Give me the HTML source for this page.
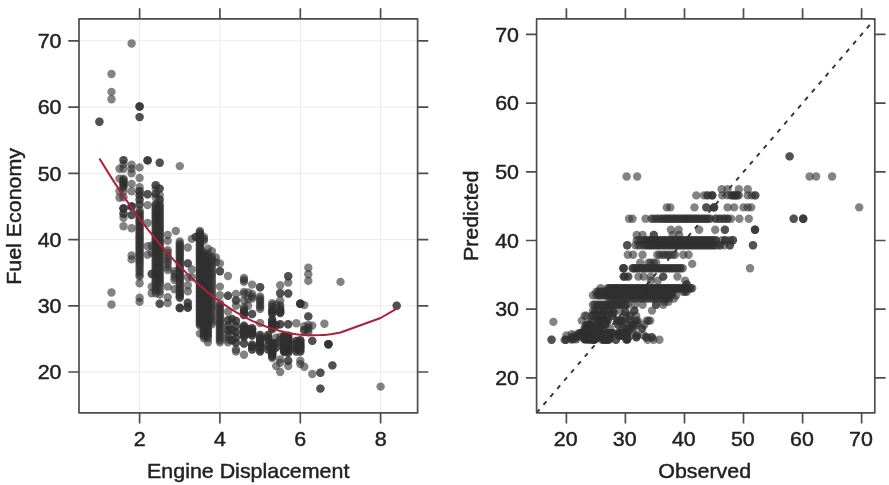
<!DOCTYPE html><html><head><meta charset="utf-8"><title>Fuel Economy</title>
<style>html,body{margin:0;padding:0;background:#fff}svg{display:block}text{font-family:"Liberation Sans",Arial,Helvetica,sans-serif;font-size:20.6px;fill:#222;stroke:#222;stroke-width:0.45px}</style></head><body>
<svg width="889" height="485" viewBox="0 0 889 485">
<rect width="889" height="485" fill="#fff"/>
<g id="left">
<g stroke="#eaeaea" stroke-width="1" fill="none">
<path d="M139.6 18.9V412.8"/>
<path d="M219.9 18.9V412.8"/>
<path d="M300.3 18.9V412.8"/>
<path d="M380.6 18.9V412.8"/>
<path d="M79 372H417.6"/>
<path d="M79 305.8H417.6"/>
<path d="M79 239.6H417.6"/>
<path d="M79 173.3H417.6"/>
<path d="M79 107.1H417.6"/>
<path d="M79 40.9H417.6"/>
</g>
<g fill="#303030" fill-opacity="0.6">
<circle cx="99.4" cy="121.7" r="4.2"/>
<circle cx="99.4" cy="121.7" r="4.2"/>
<circle cx="111.5" cy="74" r="4.2"/>
<circle cx="111.5" cy="91.9" r="4.2"/>
<circle cx="111.5" cy="99.2" r="4.2"/>
<circle cx="111.5" cy="292.5" r="4.2"/>
<circle cx="111.5" cy="304.5" r="4.2"/>
<circle cx="119.5" cy="168.7" r="4.2"/>
<circle cx="119.5" cy="178.6" r="4.2"/>
<circle cx="119.5" cy="191.2" r="4.2"/>
<circle cx="119.5" cy="197.8" r="4.2"/>
<circle cx="123.5" cy="160.1" r="4.2"/>
<circle cx="123.5" cy="160.1" r="4.2"/>
<circle cx="123.5" cy="164.1" r="4.2"/>
<circle cx="123.5" cy="168.7" r="4.2"/>
<circle cx="123.5" cy="187.2" r="4.2"/>
<circle cx="123.5" cy="185.9" r="4.2"/>
<circle cx="123.5" cy="184.6" r="4.2"/>
<circle cx="123.5" cy="183.3" r="4.2"/>
<circle cx="123.5" cy="182.6" r="4.2"/>
<circle cx="123.5" cy="181.3" r="4.2"/>
<circle cx="123.5" cy="180" r="4.2"/>
<circle cx="123.5" cy="178.6" r="4.2"/>
<circle cx="123.5" cy="191.2" r="4.2"/>
<circle cx="123.5" cy="197.2" r="4.2"/>
<circle cx="123.5" cy="208.4" r="4.2"/>
<circle cx="123.5" cy="208.4" r="4.2"/>
<circle cx="123.5" cy="208.4" r="4.2"/>
<circle cx="123.5" cy="213.7" r="4.2"/>
<circle cx="123.5" cy="213.7" r="4.2"/>
<circle cx="123.5" cy="217.7" r="4.2"/>
<circle cx="123.5" cy="226.3" r="4.2"/>
<circle cx="131.6" cy="43.5" r="4.2"/>
<circle cx="131.6" cy="164.7" r="4.2"/>
<circle cx="131.6" cy="168.7" r="4.2"/>
<circle cx="131.6" cy="173.3" r="4.2"/>
<circle cx="131.6" cy="183.9" r="4.2"/>
<circle cx="131.6" cy="191.2" r="4.2"/>
<circle cx="131.6" cy="206.5" r="4.2"/>
<circle cx="131.6" cy="206.5" r="4.2"/>
<circle cx="131.6" cy="206.5" r="4.2"/>
<circle cx="131.6" cy="215.1" r="4.2"/>
<circle cx="131.6" cy="215.1" r="4.2"/>
<circle cx="131.6" cy="228.3" r="4.2"/>
<circle cx="131.6" cy="255.5" r="4.2"/>
<circle cx="131.6" cy="259.4" r="4.2"/>
<circle cx="139.6" cy="106.5" r="4.2"/>
<circle cx="139.6" cy="106.5" r="4.2"/>
<circle cx="139.6" cy="106.5" r="4.2"/>
<circle cx="139.6" cy="117.1" r="4.2"/>
<circle cx="139.6" cy="117.1" r="4.2"/>
<circle cx="139.6" cy="167.4" r="4.2"/>
<circle cx="139.6" cy="178" r="4.2"/>
<circle cx="139.6" cy="187.2" r="4.2"/>
<circle cx="139.6" cy="191.2" r="4.2"/>
<circle cx="139.6" cy="191.2" r="4.2"/>
<circle cx="139.6" cy="195.2" r="4.2"/>
<circle cx="139.6" cy="195.2" r="4.2"/>
<circle cx="139.6" cy="199.8" r="4.2"/>
<circle cx="139.6" cy="199.8" r="4.2"/>
<circle cx="139.6" cy="204.5" r="4.2"/>
<circle cx="139.6" cy="204.5" r="4.2"/>
<circle cx="139.6" cy="263.4" r="4.2"/>
<circle cx="139.6" cy="261.4" r="4.2"/>
<circle cx="139.6" cy="260.1" r="4.2"/>
<circle cx="139.6" cy="258.1" r="4.2"/>
<circle cx="139.6" cy="256.8" r="4.2"/>
<circle cx="139.6" cy="254.8" r="4.2"/>
<circle cx="139.6" cy="253.5" r="4.2"/>
<circle cx="139.6" cy="251.5" r="4.2"/>
<circle cx="139.6" cy="250.2" r="4.2"/>
<circle cx="139.6" cy="248.2" r="4.2"/>
<circle cx="139.6" cy="246.8" r="4.2"/>
<circle cx="139.6" cy="244.9" r="4.2"/>
<circle cx="139.6" cy="243.5" r="4.2"/>
<circle cx="139.6" cy="241.5" r="4.2"/>
<circle cx="139.6" cy="240.2" r="4.2"/>
<circle cx="139.6" cy="238.2" r="4.2"/>
<circle cx="139.6" cy="236.9" r="4.2"/>
<circle cx="139.6" cy="235.6" r="4.2"/>
<circle cx="139.6" cy="233.6" r="4.2"/>
<circle cx="139.6" cy="232.3" r="4.2"/>
<circle cx="139.6" cy="230.3" r="4.2"/>
<circle cx="139.6" cy="229" r="4.2"/>
<circle cx="139.6" cy="227" r="4.2"/>
<circle cx="139.6" cy="225.7" r="4.2"/>
<circle cx="139.6" cy="223.7" r="4.2"/>
<circle cx="139.6" cy="222.3" r="4.2"/>
<circle cx="139.6" cy="220.4" r="4.2"/>
<circle cx="139.6" cy="219" r="4.2"/>
<circle cx="139.6" cy="217" r="4.2"/>
<circle cx="139.6" cy="215.7" r="4.2"/>
<circle cx="139.6" cy="213.7" r="4.2"/>
<circle cx="139.6" cy="212.4" r="4.2"/>
<circle cx="139.6" cy="210.4" r="4.2"/>
<circle cx="139.6" cy="276.6" r="4.2"/>
<circle cx="139.6" cy="274.7" r="4.2"/>
<circle cx="139.6" cy="272" r="4.2"/>
<circle cx="139.6" cy="270" r="4.2"/>
<circle cx="139.6" cy="267.4" r="4.2"/>
<circle cx="139.6" cy="265.4" r="4.2"/>
<circle cx="139.6" cy="283.3" r="4.2"/>
<circle cx="139.6" cy="297.8" r="4.2"/>
<circle cx="139.6" cy="301.8" r="4.2"/>
<circle cx="147.6" cy="160.4" r="4.2"/>
<circle cx="147.6" cy="160.4" r="4.2"/>
<circle cx="147.6" cy="160.4" r="4.2"/>
<circle cx="147.6" cy="194.2" r="4.2"/>
<circle cx="147.6" cy="194.2" r="4.2"/>
<circle cx="147.6" cy="205.1" r="4.2"/>
<circle cx="147.6" cy="223" r="4.2"/>
<circle cx="147.6" cy="246.2" r="4.2"/>
<circle cx="147.6" cy="254.8" r="4.2"/>
<circle cx="151.7" cy="245.5" r="4.2"/>
<circle cx="151.7" cy="252.8" r="4.2"/>
<circle cx="151.7" cy="274" r="4.2"/>
<circle cx="151.7" cy="274" r="4.2"/>
<circle cx="151.7" cy="286.6" r="4.2"/>
<circle cx="151.7" cy="293.2" r="4.2"/>
<circle cx="155.7" cy="185.3" r="4.2"/>
<circle cx="155.7" cy="185.3" r="4.2"/>
<circle cx="155.7" cy="188.6" r="4.2"/>
<circle cx="155.7" cy="193.9" r="4.2"/>
<circle cx="155.7" cy="193.9" r="4.2"/>
<circle cx="155.7" cy="197.2" r="4.2"/>
<circle cx="155.7" cy="204.5" r="4.2"/>
<circle cx="155.7" cy="204.5" r="4.2"/>
<circle cx="155.7" cy="283.3" r="4.2"/>
<circle cx="155.7" cy="281.3" r="4.2"/>
<circle cx="155.7" cy="280" r="4.2"/>
<circle cx="155.7" cy="278" r="4.2"/>
<circle cx="155.7" cy="276.6" r="4.2"/>
<circle cx="155.7" cy="274.7" r="4.2"/>
<circle cx="155.7" cy="273.3" r="4.2"/>
<circle cx="155.7" cy="271.3" r="4.2"/>
<circle cx="155.7" cy="270" r="4.2"/>
<circle cx="155.7" cy="268" r="4.2"/>
<circle cx="155.7" cy="266.7" r="4.2"/>
<circle cx="155.7" cy="264.7" r="4.2"/>
<circle cx="155.7" cy="263.4" r="4.2"/>
<circle cx="155.7" cy="261.4" r="4.2"/>
<circle cx="155.7" cy="260.1" r="4.2"/>
<circle cx="155.7" cy="258.1" r="4.2"/>
<circle cx="155.7" cy="256.8" r="4.2"/>
<circle cx="155.7" cy="254.8" r="4.2"/>
<circle cx="155.7" cy="253.5" r="4.2"/>
<circle cx="155.7" cy="251.5" r="4.2"/>
<circle cx="155.7" cy="250.2" r="4.2"/>
<circle cx="155.7" cy="248.2" r="4.2"/>
<circle cx="155.7" cy="246.8" r="4.2"/>
<circle cx="155.7" cy="245.5" r="4.2"/>
<circle cx="155.7" cy="243.5" r="4.2"/>
<circle cx="155.7" cy="242.2" r="4.2"/>
<circle cx="155.7" cy="240.2" r="4.2"/>
<circle cx="155.7" cy="238.9" r="4.2"/>
<circle cx="155.7" cy="236.9" r="4.2"/>
<circle cx="155.7" cy="235.6" r="4.2"/>
<circle cx="155.7" cy="233.6" r="4.2"/>
<circle cx="155.7" cy="232.3" r="4.2"/>
<circle cx="155.7" cy="230.3" r="4.2"/>
<circle cx="155.7" cy="229" r="4.2"/>
<circle cx="155.7" cy="227" r="4.2"/>
<circle cx="155.7" cy="225.7" r="4.2"/>
<circle cx="155.7" cy="223.7" r="4.2"/>
<circle cx="155.7" cy="222.3" r="4.2"/>
<circle cx="155.7" cy="220.4" r="4.2"/>
<circle cx="155.7" cy="219" r="4.2"/>
<circle cx="155.7" cy="217" r="4.2"/>
<circle cx="155.7" cy="215.7" r="4.2"/>
<circle cx="155.7" cy="213.7" r="4.2"/>
<circle cx="155.7" cy="212.4" r="4.2"/>
<circle cx="155.7" cy="210.4" r="4.2"/>
<circle cx="155.7" cy="209.1" r="4.2"/>
<circle cx="155.7" cy="207.1" r="4.2"/>
<circle cx="155.7" cy="293.2" r="4.2"/>
<circle cx="155.7" cy="290.5" r="4.2"/>
<circle cx="155.7" cy="287.9" r="4.2"/>
<circle cx="155.7" cy="285.3" r="4.2"/>
<circle cx="159.7" cy="162.7" r="4.2"/>
<circle cx="159.7" cy="162.7" r="4.2"/>
<circle cx="159.7" cy="188.6" r="4.2"/>
<circle cx="159.7" cy="188.6" r="4.2"/>
<circle cx="159.7" cy="195.2" r="4.2"/>
<circle cx="159.7" cy="199.8" r="4.2"/>
<circle cx="159.7" cy="199.8" r="4.2"/>
<circle cx="159.7" cy="283.3" r="4.2"/>
<circle cx="159.7" cy="281.3" r="4.2"/>
<circle cx="159.7" cy="280" r="4.2"/>
<circle cx="159.7" cy="278" r="4.2"/>
<circle cx="159.7" cy="276.6" r="4.2"/>
<circle cx="159.7" cy="274.7" r="4.2"/>
<circle cx="159.7" cy="273.3" r="4.2"/>
<circle cx="159.7" cy="271.3" r="4.2"/>
<circle cx="159.7" cy="270" r="4.2"/>
<circle cx="159.7" cy="268" r="4.2"/>
<circle cx="159.7" cy="266.7" r="4.2"/>
<circle cx="159.7" cy="264.7" r="4.2"/>
<circle cx="159.7" cy="263.4" r="4.2"/>
<circle cx="159.7" cy="261.4" r="4.2"/>
<circle cx="159.7" cy="260.1" r="4.2"/>
<circle cx="159.7" cy="258.1" r="4.2"/>
<circle cx="159.7" cy="256.8" r="4.2"/>
<circle cx="159.7" cy="254.8" r="4.2"/>
<circle cx="159.7" cy="253.5" r="4.2"/>
<circle cx="159.7" cy="251.5" r="4.2"/>
<circle cx="159.7" cy="250.2" r="4.2"/>
<circle cx="159.7" cy="248.2" r="4.2"/>
<circle cx="159.7" cy="246.8" r="4.2"/>
<circle cx="159.7" cy="244.9" r="4.2"/>
<circle cx="159.7" cy="243.5" r="4.2"/>
<circle cx="159.7" cy="242.2" r="4.2"/>
<circle cx="159.7" cy="240.2" r="4.2"/>
<circle cx="159.7" cy="238.9" r="4.2"/>
<circle cx="159.7" cy="236.9" r="4.2"/>
<circle cx="159.7" cy="235.6" r="4.2"/>
<circle cx="159.7" cy="233.6" r="4.2"/>
<circle cx="159.7" cy="232.3" r="4.2"/>
<circle cx="159.7" cy="230.3" r="4.2"/>
<circle cx="159.7" cy="229" r="4.2"/>
<circle cx="159.7" cy="227" r="4.2"/>
<circle cx="159.7" cy="225.7" r="4.2"/>
<circle cx="159.7" cy="223.7" r="4.2"/>
<circle cx="159.7" cy="222.3" r="4.2"/>
<circle cx="159.7" cy="220.4" r="4.2"/>
<circle cx="159.7" cy="219" r="4.2"/>
<circle cx="159.7" cy="217" r="4.2"/>
<circle cx="159.7" cy="215.7" r="4.2"/>
<circle cx="159.7" cy="213.7" r="4.2"/>
<circle cx="159.7" cy="212.4" r="4.2"/>
<circle cx="159.7" cy="210.4" r="4.2"/>
<circle cx="159.7" cy="209.1" r="4.2"/>
<circle cx="159.7" cy="207.1" r="4.2"/>
<circle cx="159.7" cy="205.8" r="4.2"/>
<circle cx="159.7" cy="203.8" r="4.2"/>
<circle cx="159.7" cy="294.5" r="4.2"/>
<circle cx="159.7" cy="291.2" r="4.2"/>
<circle cx="159.7" cy="288.6" r="4.2"/>
<circle cx="159.7" cy="285.3" r="4.2"/>
<circle cx="159.7" cy="303.8" r="4.2"/>
<circle cx="159.7" cy="303.8" r="4.2"/>
<circle cx="167.7" cy="234.9" r="4.2"/>
<circle cx="167.7" cy="240.9" r="4.2"/>
<circle cx="167.7" cy="270" r="4.2"/>
<circle cx="167.7" cy="267.4" r="4.2"/>
<circle cx="167.7" cy="264.1" r="4.2"/>
<circle cx="167.7" cy="261.4" r="4.2"/>
<circle cx="167.7" cy="258.8" r="4.2"/>
<circle cx="167.7" cy="256.1" r="4.2"/>
<circle cx="167.7" cy="252.8" r="4.2"/>
<circle cx="167.7" cy="250.2" r="4.2"/>
<circle cx="167.7" cy="286.6" r="4.2"/>
<circle cx="167.7" cy="297.2" r="4.2"/>
<circle cx="167.7" cy="303.1" r="4.2"/>
<circle cx="174.5" cy="280" r="4.2"/>
<circle cx="174.5" cy="277.3" r="4.2"/>
<circle cx="174.5" cy="274" r="4.2"/>
<circle cx="174.5" cy="271.3" r="4.2"/>
<circle cx="174.5" cy="289.2" r="4.2"/>
<circle cx="175.8" cy="231" r="4.2"/>
<circle cx="179.8" cy="166.1" r="4.2"/>
<circle cx="179.8" cy="297.8" r="4.2"/>
<circle cx="179.8" cy="295.8" r="4.2"/>
<circle cx="179.8" cy="294.5" r="4.2"/>
<circle cx="179.8" cy="292.5" r="4.2"/>
<circle cx="179.8" cy="291.2" r="4.2"/>
<circle cx="179.8" cy="289.2" r="4.2"/>
<circle cx="179.8" cy="287.9" r="4.2"/>
<circle cx="179.8" cy="285.9" r="4.2"/>
<circle cx="179.8" cy="284.6" r="4.2"/>
<circle cx="179.8" cy="282.6" r="4.2"/>
<circle cx="179.8" cy="281.3" r="4.2"/>
<circle cx="179.8" cy="279.3" r="4.2"/>
<circle cx="179.8" cy="278" r="4.2"/>
<circle cx="179.8" cy="276" r="4.2"/>
<circle cx="179.8" cy="274.7" r="4.2"/>
<circle cx="179.8" cy="272.7" r="4.2"/>
<circle cx="179.8" cy="271.3" r="4.2"/>
<circle cx="179.8" cy="269.4" r="4.2"/>
<circle cx="179.8" cy="268" r="4.2"/>
<circle cx="179.8" cy="266.7" r="4.2"/>
<circle cx="179.8" cy="264.7" r="4.2"/>
<circle cx="179.8" cy="263.4" r="4.2"/>
<circle cx="179.8" cy="261.4" r="4.2"/>
<circle cx="179.8" cy="260.1" r="4.2"/>
<circle cx="179.8" cy="258.1" r="4.2"/>
<circle cx="179.8" cy="256.8" r="4.2"/>
<circle cx="179.8" cy="254.8" r="4.2"/>
<circle cx="179.8" cy="253.5" r="4.2"/>
<circle cx="179.8" cy="251.5" r="4.2"/>
<circle cx="179.8" cy="250.2" r="4.2"/>
<circle cx="179.8" cy="248.2" r="4.2"/>
<circle cx="179.8" cy="246.8" r="4.2"/>
<circle cx="179.8" cy="244.9" r="4.2"/>
<circle cx="179.8" cy="243.5" r="4.2"/>
<circle cx="179.8" cy="241.5" r="4.2"/>
<circle cx="179.8" cy="307.8" r="4.2"/>
<circle cx="179.8" cy="307.8" r="4.2"/>
<circle cx="179.8" cy="297.2" r="4.2"/>
<circle cx="179.8" cy="308.4" r="4.2"/>
<circle cx="187.8" cy="247.5" r="4.2"/>
<circle cx="187.8" cy="263.4" r="4.2"/>
<circle cx="187.8" cy="263.4" r="4.2"/>
<circle cx="187.8" cy="277.3" r="4.2"/>
<circle cx="187.8" cy="285.3" r="4.2"/>
<circle cx="187.8" cy="291.2" r="4.2"/>
<circle cx="187.8" cy="302.5" r="4.2"/>
<circle cx="187.8" cy="307.8" r="4.2"/>
<circle cx="187.8" cy="307.8" r="4.2"/>
<circle cx="187.8" cy="303.1" r="4.2"/>
<circle cx="187.8" cy="306.4" r="4.2"/>
<circle cx="191.8" cy="238.9" r="4.2"/>
<circle cx="191.8" cy="269.4" r="4.2"/>
<circle cx="191.8" cy="277.3" r="4.2"/>
<circle cx="195.8" cy="236.9" r="4.2"/>
<circle cx="195.8" cy="236.9" r="4.2"/>
<circle cx="199.9" cy="325.6" r="4.2"/>
<circle cx="199.9" cy="324.3" r="4.2"/>
<circle cx="199.9" cy="323" r="4.2"/>
<circle cx="199.9" cy="321.7" r="4.2"/>
<circle cx="199.9" cy="320.3" r="4.2"/>
<circle cx="199.9" cy="319" r="4.2"/>
<circle cx="199.9" cy="317.7" r="4.2"/>
<circle cx="199.9" cy="316.4" r="4.2"/>
<circle cx="199.9" cy="315.1" r="4.2"/>
<circle cx="199.9" cy="313.7" r="4.2"/>
<circle cx="199.9" cy="312.4" r="4.2"/>
<circle cx="199.9" cy="311.1" r="4.2"/>
<circle cx="199.9" cy="309.8" r="4.2"/>
<circle cx="199.9" cy="308.4" r="4.2"/>
<circle cx="199.9" cy="307.1" r="4.2"/>
<circle cx="199.9" cy="305.8" r="4.2"/>
<circle cx="199.9" cy="304.5" r="4.2"/>
<circle cx="199.9" cy="303.1" r="4.2"/>
<circle cx="199.9" cy="301.8" r="4.2"/>
<circle cx="199.9" cy="300.5" r="4.2"/>
<circle cx="199.9" cy="299.2" r="4.2"/>
<circle cx="199.9" cy="297.8" r="4.2"/>
<circle cx="199.9" cy="296.5" r="4.2"/>
<circle cx="199.9" cy="295.2" r="4.2"/>
<circle cx="199.9" cy="293.9" r="4.2"/>
<circle cx="199.9" cy="292.5" r="4.2"/>
<circle cx="199.9" cy="291.2" r="4.2"/>
<circle cx="199.9" cy="289.9" r="4.2"/>
<circle cx="199.9" cy="288.6" r="4.2"/>
<circle cx="199.9" cy="287.2" r="4.2"/>
<circle cx="199.9" cy="285.9" r="4.2"/>
<circle cx="199.9" cy="284.6" r="4.2"/>
<circle cx="199.9" cy="283.3" r="4.2"/>
<circle cx="199.9" cy="281.9" r="4.2"/>
<circle cx="199.9" cy="280.6" r="4.2"/>
<circle cx="199.9" cy="279.3" r="4.2"/>
<circle cx="199.9" cy="277.3" r="4.2"/>
<circle cx="199.9" cy="276" r="4.2"/>
<circle cx="199.9" cy="274.7" r="4.2"/>
<circle cx="199.9" cy="273.3" r="4.2"/>
<circle cx="199.9" cy="272" r="4.2"/>
<circle cx="199.9" cy="270.7" r="4.2"/>
<circle cx="199.9" cy="269.4" r="4.2"/>
<circle cx="199.9" cy="268" r="4.2"/>
<circle cx="199.9" cy="266.7" r="4.2"/>
<circle cx="199.9" cy="265.4" r="4.2"/>
<circle cx="199.9" cy="264.1" r="4.2"/>
<circle cx="199.9" cy="262.7" r="4.2"/>
<circle cx="199.9" cy="261.4" r="4.2"/>
<circle cx="199.9" cy="260.1" r="4.2"/>
<circle cx="199.9" cy="258.8" r="4.2"/>
<circle cx="199.9" cy="257.4" r="4.2"/>
<circle cx="199.9" cy="256.1" r="4.2"/>
<circle cx="199.9" cy="254.8" r="4.2"/>
<circle cx="199.9" cy="253.5" r="4.2"/>
<circle cx="199.9" cy="252.1" r="4.2"/>
<circle cx="199.9" cy="250.8" r="4.2"/>
<circle cx="199.9" cy="249.5" r="4.2"/>
<circle cx="199.9" cy="248.2" r="4.2"/>
<circle cx="199.9" cy="246.8" r="4.2"/>
<circle cx="199.9" cy="245.5" r="4.2"/>
<circle cx="199.9" cy="244.2" r="4.2"/>
<circle cx="199.9" cy="242.9" r="4.2"/>
<circle cx="199.9" cy="241.5" r="4.2"/>
<circle cx="199.9" cy="240.2" r="4.2"/>
<circle cx="199.9" cy="238.9" r="4.2"/>
<circle cx="199.9" cy="237.6" r="4.2"/>
<circle cx="199.9" cy="236.2" r="4.2"/>
<circle cx="199.9" cy="234.9" r="4.2"/>
<circle cx="199.9" cy="233.6" r="4.2"/>
<circle cx="199.9" cy="232.3" r="4.2"/>
<circle cx="199.9" cy="231" r="4.2"/>
<circle cx="199.9" cy="333.6" r="4.2"/>
<circle cx="203.9" cy="240.9" r="4.2"/>
<circle cx="203.9" cy="238.9" r="4.2"/>
<circle cx="203.9" cy="236.9" r="4.2"/>
<circle cx="203.9" cy="338.2" r="4.2"/>
<circle cx="203.9" cy="336.2" r="4.2"/>
<circle cx="203.9" cy="334.9" r="4.2"/>
<circle cx="203.9" cy="332.9" r="4.2"/>
<circle cx="203.9" cy="331.6" r="4.2"/>
<circle cx="203.9" cy="329.6" r="4.2"/>
<circle cx="203.9" cy="328.3" r="4.2"/>
<circle cx="203.9" cy="326.3" r="4.2"/>
<circle cx="203.9" cy="325" r="4.2"/>
<circle cx="203.9" cy="323" r="4.2"/>
<circle cx="203.9" cy="321.7" r="4.2"/>
<circle cx="203.9" cy="319.7" r="4.2"/>
<circle cx="203.9" cy="318.4" r="4.2"/>
<circle cx="203.9" cy="316.4" r="4.2"/>
<circle cx="203.9" cy="315.1" r="4.2"/>
<circle cx="203.9" cy="313.1" r="4.2"/>
<circle cx="203.9" cy="311.7" r="4.2"/>
<circle cx="203.9" cy="309.8" r="4.2"/>
<circle cx="203.9" cy="308.4" r="4.2"/>
<circle cx="203.9" cy="306.4" r="4.2"/>
<circle cx="203.9" cy="305.1" r="4.2"/>
<circle cx="203.9" cy="303.1" r="4.2"/>
<circle cx="203.9" cy="301.8" r="4.2"/>
<circle cx="203.9" cy="299.8" r="4.2"/>
<circle cx="203.9" cy="298.5" r="4.2"/>
<circle cx="203.9" cy="296.5" r="4.2"/>
<circle cx="203.9" cy="295.2" r="4.2"/>
<circle cx="203.9" cy="293.9" r="4.2"/>
<circle cx="203.9" cy="291.9" r="4.2"/>
<circle cx="203.9" cy="290.5" r="4.2"/>
<circle cx="203.9" cy="288.6" r="4.2"/>
<circle cx="203.9" cy="287.2" r="4.2"/>
<circle cx="203.9" cy="285.3" r="4.2"/>
<circle cx="203.9" cy="283.9" r="4.2"/>
<circle cx="203.9" cy="281.9" r="4.2"/>
<circle cx="203.9" cy="280.6" r="4.2"/>
<circle cx="203.9" cy="278.6" r="4.2"/>
<circle cx="203.9" cy="277.3" r="4.2"/>
<circle cx="203.9" cy="275.3" r="4.2"/>
<circle cx="203.9" cy="274" r="4.2"/>
<circle cx="203.9" cy="272" r="4.2"/>
<circle cx="203.9" cy="270.7" r="4.2"/>
<circle cx="203.9" cy="268.7" r="4.2"/>
<circle cx="203.9" cy="267.4" r="4.2"/>
<circle cx="203.9" cy="265.4" r="4.2"/>
<circle cx="203.9" cy="264.1" r="4.2"/>
<circle cx="203.9" cy="262.1" r="4.2"/>
<circle cx="203.9" cy="260.8" r="4.2"/>
<circle cx="203.9" cy="258.8" r="4.2"/>
<circle cx="203.9" cy="257.4" r="4.2"/>
<circle cx="203.9" cy="255.5" r="4.2"/>
<circle cx="203.9" cy="254.1" r="4.2"/>
<circle cx="203.9" cy="252.1" r="4.2"/>
<circle cx="207.9" cy="248.8" r="4.2"/>
<circle cx="207.9" cy="338.2" r="4.2"/>
<circle cx="207.9" cy="336.2" r="4.2"/>
<circle cx="207.9" cy="334.9" r="4.2"/>
<circle cx="207.9" cy="332.9" r="4.2"/>
<circle cx="207.9" cy="331.6" r="4.2"/>
<circle cx="207.9" cy="329.6" r="4.2"/>
<circle cx="207.9" cy="328.3" r="4.2"/>
<circle cx="207.9" cy="326.3" r="4.2"/>
<circle cx="207.9" cy="325" r="4.2"/>
<circle cx="207.9" cy="323" r="4.2"/>
<circle cx="207.9" cy="321.7" r="4.2"/>
<circle cx="207.9" cy="319.7" r="4.2"/>
<circle cx="207.9" cy="318.4" r="4.2"/>
<circle cx="207.9" cy="317" r="4.2"/>
<circle cx="207.9" cy="315.1" r="4.2"/>
<circle cx="207.9" cy="313.7" r="4.2"/>
<circle cx="207.9" cy="311.7" r="4.2"/>
<circle cx="207.9" cy="310.4" r="4.2"/>
<circle cx="207.9" cy="308.4" r="4.2"/>
<circle cx="207.9" cy="307.1" r="4.2"/>
<circle cx="207.9" cy="305.1" r="4.2"/>
<circle cx="207.9" cy="303.8" r="4.2"/>
<circle cx="207.9" cy="301.8" r="4.2"/>
<circle cx="207.9" cy="300.5" r="4.2"/>
<circle cx="207.9" cy="298.5" r="4.2"/>
<circle cx="207.9" cy="297.2" r="4.2"/>
<circle cx="207.9" cy="295.2" r="4.2"/>
<circle cx="207.9" cy="293.9" r="4.2"/>
<circle cx="207.9" cy="291.9" r="4.2"/>
<circle cx="207.9" cy="290.5" r="4.2"/>
<circle cx="207.9" cy="288.6" r="4.2"/>
<circle cx="207.9" cy="287.2" r="4.2"/>
<circle cx="207.9" cy="285.3" r="4.2"/>
<circle cx="207.9" cy="283.9" r="4.2"/>
<circle cx="207.9" cy="281.9" r="4.2"/>
<circle cx="207.9" cy="280.6" r="4.2"/>
<circle cx="207.9" cy="278.6" r="4.2"/>
<circle cx="207.9" cy="277.3" r="4.2"/>
<circle cx="207.9" cy="275.3" r="4.2"/>
<circle cx="207.9" cy="274" r="4.2"/>
<circle cx="207.9" cy="272.7" r="4.2"/>
<circle cx="207.9" cy="270.7" r="4.2"/>
<circle cx="207.9" cy="269.4" r="4.2"/>
<circle cx="207.9" cy="267.4" r="4.2"/>
<circle cx="207.9" cy="266" r="4.2"/>
<circle cx="207.9" cy="264.1" r="4.2"/>
<circle cx="207.9" cy="262.7" r="4.2"/>
<circle cx="207.9" cy="260.8" r="4.2"/>
<circle cx="207.9" cy="259.4" r="4.2"/>
<circle cx="207.9" cy="257.4" r="4.2"/>
<circle cx="207.9" cy="256.1" r="4.2"/>
<circle cx="207.9" cy="254.1" r="4.2"/>
<circle cx="207.9" cy="342.2" r="4.2"/>
<circle cx="211.9" cy="251.1" r="4.2"/>
<circle cx="211.9" cy="324.3" r="4.2"/>
<circle cx="211.9" cy="321.7" r="4.2"/>
<circle cx="211.9" cy="319" r="4.2"/>
<circle cx="211.9" cy="316.4" r="4.2"/>
<circle cx="211.9" cy="313.7" r="4.2"/>
<circle cx="211.9" cy="311.1" r="4.2"/>
<circle cx="211.9" cy="308.4" r="4.2"/>
<circle cx="211.9" cy="306.4" r="4.2"/>
<circle cx="211.9" cy="303.8" r="4.2"/>
<circle cx="211.9" cy="301.1" r="4.2"/>
<circle cx="211.9" cy="298.5" r="4.2"/>
<circle cx="211.9" cy="295.8" r="4.2"/>
<circle cx="211.9" cy="293.2" r="4.2"/>
<circle cx="211.9" cy="290.5" r="4.2"/>
<circle cx="211.9" cy="287.9" r="4.2"/>
<circle cx="211.9" cy="285.3" r="4.2"/>
<circle cx="211.9" cy="282.6" r="4.2"/>
<circle cx="211.9" cy="280" r="4.2"/>
<circle cx="211.9" cy="277.3" r="4.2"/>
<circle cx="211.9" cy="274.7" r="4.2"/>
<circle cx="211.9" cy="272.7" r="4.2"/>
<circle cx="211.9" cy="270" r="4.2"/>
<circle cx="211.9" cy="267.4" r="4.2"/>
<circle cx="211.9" cy="264.7" r="4.2"/>
<circle cx="211.9" cy="262.1" r="4.2"/>
<circle cx="211.9" cy="259.4" r="4.2"/>
<circle cx="211.9" cy="256.8" r="4.2"/>
<circle cx="215.9" cy="257.4" r="4.2"/>
<circle cx="215.9" cy="262.1" r="4.2"/>
<circle cx="219.9" cy="263.4" r="4.2"/>
<circle cx="219.9" cy="271.3" r="4.2"/>
<circle cx="219.9" cy="271.3" r="4.2"/>
<circle cx="219.9" cy="286.6" r="4.2"/>
<circle cx="219.9" cy="295.2" r="4.2"/>
<circle cx="219.9" cy="342.2" r="4.2"/>
<circle cx="219.9" cy="340.2" r="4.2"/>
<circle cx="219.9" cy="338.2" r="4.2"/>
<circle cx="219.9" cy="336.2" r="4.2"/>
<circle cx="219.9" cy="334.3" r="4.2"/>
<circle cx="219.9" cy="332.3" r="4.2"/>
<circle cx="219.9" cy="330.3" r="4.2"/>
<circle cx="219.9" cy="328.3" r="4.2"/>
<circle cx="219.9" cy="326.3" r="4.2"/>
<circle cx="219.9" cy="324.3" r="4.2"/>
<circle cx="219.9" cy="323" r="4.2"/>
<circle cx="219.9" cy="321" r="4.2"/>
<circle cx="219.9" cy="319" r="4.2"/>
<circle cx="219.9" cy="317" r="4.2"/>
<circle cx="219.9" cy="315.1" r="4.2"/>
<circle cx="219.9" cy="313.1" r="4.2"/>
<circle cx="219.9" cy="311.1" r="4.2"/>
<circle cx="219.9" cy="309.1" r="4.2"/>
<circle cx="219.9" cy="307.1" r="4.2"/>
<circle cx="219.9" cy="305.1" r="4.2"/>
<circle cx="219.9" cy="303.1" r="4.2"/>
<circle cx="228" cy="276" r="4.2"/>
<circle cx="228" cy="295.8" r="4.2"/>
<circle cx="228" cy="295.8" r="4.2"/>
<circle cx="228" cy="311.7" r="4.2"/>
<circle cx="228" cy="320.3" r="4.2"/>
<circle cx="228" cy="320.3" r="4.2"/>
<circle cx="228" cy="325.6" r="4.2"/>
<circle cx="228" cy="330.3" r="4.2"/>
<circle cx="228" cy="334.3" r="4.2"/>
<circle cx="228" cy="336.9" r="4.2"/>
<circle cx="228" cy="342.2" r="4.2"/>
<circle cx="228" cy="339.6" r="4.2"/>
<circle cx="232" cy="319" r="4.2"/>
<circle cx="232" cy="319" r="4.2"/>
<circle cx="232" cy="330.3" r="4.2"/>
<circle cx="232" cy="340.2" r="4.2"/>
<circle cx="236" cy="293.9" r="4.2"/>
<circle cx="236" cy="300.5" r="4.2"/>
<circle cx="236" cy="300.5" r="4.2"/>
<circle cx="236" cy="305.8" r="4.2"/>
<circle cx="236" cy="321" r="4.2"/>
<circle cx="236" cy="321" r="4.2"/>
<circle cx="236" cy="326.3" r="4.2"/>
<circle cx="236" cy="332.3" r="4.2"/>
<circle cx="236" cy="337.6" r="4.2"/>
<circle cx="236" cy="342.9" r="4.2"/>
<circle cx="236" cy="349.5" r="4.2"/>
<circle cx="236" cy="351.5" r="4.2"/>
<circle cx="244" cy="281.9" r="4.2"/>
<circle cx="244" cy="280" r="4.2"/>
<circle cx="244" cy="278" r="4.2"/>
<circle cx="244" cy="293.9" r="4.2"/>
<circle cx="244" cy="291.9" r="4.2"/>
<circle cx="244" cy="300.5" r="4.2"/>
<circle cx="244" cy="315.1" r="4.2"/>
<circle cx="244" cy="313.1" r="4.2"/>
<circle cx="244" cy="311.1" r="4.2"/>
<circle cx="244" cy="309.1" r="4.2"/>
<circle cx="244" cy="307.1" r="4.2"/>
<circle cx="244" cy="336.9" r="4.2"/>
<circle cx="244" cy="334.9" r="4.2"/>
<circle cx="244" cy="333.6" r="4.2"/>
<circle cx="244" cy="332.3" r="4.2"/>
<circle cx="244" cy="330.3" r="4.2"/>
<circle cx="244" cy="329" r="4.2"/>
<circle cx="244" cy="327.6" r="4.2"/>
<circle cx="244" cy="325.6" r="4.2"/>
<circle cx="244" cy="343.5" r="4.2"/>
<circle cx="244" cy="354.8" r="4.2"/>
<circle cx="248.1" cy="292.5" r="4.2"/>
<circle cx="248.1" cy="299.2" r="4.2"/>
<circle cx="248.1" cy="305.8" r="4.2"/>
<circle cx="248.1" cy="329" r="4.2"/>
<circle cx="248.1" cy="333.6" r="4.2"/>
<circle cx="252.1" cy="284.6" r="4.2"/>
<circle cx="252.1" cy="298.5" r="4.2"/>
<circle cx="252.1" cy="296.5" r="4.2"/>
<circle cx="252.1" cy="293.9" r="4.2"/>
<circle cx="252.1" cy="313.7" r="4.2"/>
<circle cx="252.1" cy="314.4" r="4.2"/>
<circle cx="252.1" cy="335.6" r="4.2"/>
<circle cx="252.1" cy="333.6" r="4.2"/>
<circle cx="252.1" cy="332.3" r="4.2"/>
<circle cx="252.1" cy="330.3" r="4.2"/>
<circle cx="252.1" cy="328.3" r="4.2"/>
<circle cx="252.1" cy="349.5" r="4.2"/>
<circle cx="252.1" cy="346.8" r="4.2"/>
<circle cx="252.1" cy="344.8" r="4.2"/>
<circle cx="260.1" cy="287.2" r="4.2"/>
<circle cx="260.1" cy="287.2" r="4.2"/>
<circle cx="260.1" cy="309.1" r="4.2"/>
<circle cx="260.1" cy="307.1" r="4.2"/>
<circle cx="260.1" cy="305.1" r="4.2"/>
<circle cx="260.1" cy="302.5" r="4.2"/>
<circle cx="260.1" cy="300.5" r="4.2"/>
<circle cx="260.1" cy="298.5" r="4.2"/>
<circle cx="260.1" cy="296.5" r="4.2"/>
<circle cx="260.1" cy="323" r="4.2"/>
<circle cx="260.1" cy="351.5" r="4.2"/>
<circle cx="260.1" cy="349.5" r="4.2"/>
<circle cx="260.1" cy="346.8" r="4.2"/>
<circle cx="260.1" cy="344.8" r="4.2"/>
<circle cx="260.1" cy="342.9" r="4.2"/>
<circle cx="260.1" cy="341.5" r="4.2"/>
<circle cx="260.1" cy="339.6" r="4.2"/>
<circle cx="260.1" cy="337.6" r="4.2"/>
<circle cx="260.1" cy="334.9" r="4.2"/>
<circle cx="268.1" cy="339.6" r="4.2"/>
<circle cx="268.1" cy="337.6" r="4.2"/>
<circle cx="268.1" cy="334.9" r="4.2"/>
<circle cx="268.1" cy="345.5" r="4.2"/>
<circle cx="268.1" cy="349.5" r="4.2"/>
<circle cx="272.2" cy="313.7" r="4.2"/>
<circle cx="272.2" cy="311.7" r="4.2"/>
<circle cx="272.2" cy="309.8" r="4.2"/>
<circle cx="272.2" cy="307.1" r="4.2"/>
<circle cx="272.2" cy="305.1" r="4.2"/>
<circle cx="272.2" cy="303.1" r="4.2"/>
<circle cx="272.2" cy="329" r="4.2"/>
<circle cx="272.2" cy="327" r="4.2"/>
<circle cx="272.2" cy="325" r="4.2"/>
<circle cx="272.2" cy="323.7" r="4.2"/>
<circle cx="272.2" cy="321.7" r="4.2"/>
<circle cx="272.2" cy="319.7" r="4.2"/>
<circle cx="272.2" cy="358.1" r="4.2"/>
<circle cx="272.2" cy="356.8" r="4.2"/>
<circle cx="272.2" cy="355.4" r="4.2"/>
<circle cx="272.2" cy="354.1" r="4.2"/>
<circle cx="272.2" cy="352.8" r="4.2"/>
<circle cx="272.2" cy="351.5" r="4.2"/>
<circle cx="272.2" cy="349.5" r="4.2"/>
<circle cx="272.2" cy="348.2" r="4.2"/>
<circle cx="272.2" cy="346.8" r="4.2"/>
<circle cx="272.2" cy="345.5" r="4.2"/>
<circle cx="272.2" cy="344.2" r="4.2"/>
<circle cx="272.2" cy="342.9" r="4.2"/>
<circle cx="276.2" cy="304.5" r="4.2"/>
<circle cx="276.2" cy="325.3" r="4.2"/>
<circle cx="276.2" cy="325.3" r="4.2"/>
<circle cx="276.2" cy="337.6" r="4.2"/>
<circle cx="276.2" cy="342.9" r="4.2"/>
<circle cx="276.2" cy="347.5" r="4.2"/>
<circle cx="276.2" cy="366" r="4.2"/>
<circle cx="280.2" cy="285.3" r="4.2"/>
<circle cx="280.2" cy="293.2" r="4.2"/>
<circle cx="280.2" cy="293.2" r="4.2"/>
<circle cx="280.2" cy="300.5" r="4.2"/>
<circle cx="280.2" cy="311.7" r="4.2"/>
<circle cx="280.2" cy="309.8" r="4.2"/>
<circle cx="280.2" cy="307.1" r="4.2"/>
<circle cx="280.2" cy="305.1" r="4.2"/>
<circle cx="280.2" cy="313.1" r="4.2"/>
<circle cx="280.2" cy="313.1" r="4.2"/>
<circle cx="280.2" cy="324.3" r="4.2"/>
<circle cx="280.2" cy="324.3" r="4.2"/>
<circle cx="280.2" cy="336.9" r="4.2"/>
<circle cx="280.2" cy="340.2" r="4.2"/>
<circle cx="280.2" cy="359.4" r="4.2"/>
<circle cx="280.2" cy="362.7" r="4.2"/>
<circle cx="280.2" cy="372" r="4.2"/>
<circle cx="284.2" cy="352.1" r="4.2"/>
<circle cx="284.2" cy="350.8" r="4.2"/>
<circle cx="284.2" cy="349.5" r="4.2"/>
<circle cx="284.2" cy="348.2" r="4.2"/>
<circle cx="284.2" cy="346.8" r="4.2"/>
<circle cx="284.2" cy="345.5" r="4.2"/>
<circle cx="284.2" cy="344.2" r="4.2"/>
<circle cx="284.2" cy="343.5" r="4.2"/>
<circle cx="284.2" cy="342.2" r="4.2"/>
<circle cx="284.2" cy="340.9" r="4.2"/>
<circle cx="284.2" cy="339.6" r="4.2"/>
<circle cx="284.2" cy="338.2" r="4.2"/>
<circle cx="284.2" cy="336.9" r="4.2"/>
<circle cx="284.2" cy="335.6" r="4.2"/>
<circle cx="288.2" cy="276.3" r="4.2"/>
<circle cx="288.2" cy="276.3" r="4.2"/>
<circle cx="288.2" cy="282.6" r="4.2"/>
<circle cx="288.2" cy="293.5" r="4.2"/>
<circle cx="288.2" cy="293.5" r="4.2"/>
<circle cx="288.2" cy="324.3" r="4.2"/>
<circle cx="288.2" cy="324.3" r="4.2"/>
<circle cx="288.2" cy="352.8" r="4.2"/>
<circle cx="288.2" cy="350.8" r="4.2"/>
<circle cx="288.2" cy="349.5" r="4.2"/>
<circle cx="288.2" cy="347.5" r="4.2"/>
<circle cx="288.2" cy="346.2" r="4.2"/>
<circle cx="288.2" cy="344.2" r="4.2"/>
<circle cx="288.2" cy="342.2" r="4.2"/>
<circle cx="288.2" cy="340.9" r="4.2"/>
<circle cx="288.2" cy="338.9" r="4.2"/>
<circle cx="288.2" cy="337.6" r="4.2"/>
<circle cx="288.2" cy="335.6" r="4.2"/>
<circle cx="288.2" cy="360.7" r="4.2"/>
<circle cx="288.2" cy="360.7" r="4.2"/>
<circle cx="288.2" cy="366" r="4.2"/>
<circle cx="296.3" cy="323.3" r="4.2"/>
<circle cx="296.3" cy="351.5" r="4.2"/>
<circle cx="296.3" cy="348.8" r="4.2"/>
<circle cx="296.3" cy="346.2" r="4.2"/>
<circle cx="296.3" cy="343.5" r="4.2"/>
<circle cx="296.3" cy="340.9" r="4.2"/>
<circle cx="300.3" cy="303.8" r="4.2"/>
<circle cx="300.3" cy="303.8" r="4.2"/>
<circle cx="300.3" cy="303.8" r="4.2"/>
<circle cx="300.3" cy="303.8" r="4.2"/>
<circle cx="300.3" cy="351.5" r="4.2"/>
<circle cx="300.3" cy="349.5" r="4.2"/>
<circle cx="300.3" cy="347.5" r="4.2"/>
<circle cx="300.3" cy="346.2" r="4.2"/>
<circle cx="300.3" cy="344.2" r="4.2"/>
<circle cx="300.3" cy="342.2" r="4.2"/>
<circle cx="300.3" cy="340.2" r="4.2"/>
<circle cx="300.3" cy="360.7" r="4.2"/>
<circle cx="300.3" cy="364.1" r="4.2"/>
<circle cx="304.3" cy="305.1" r="4.2"/>
<circle cx="304.3" cy="326.3" r="4.2"/>
<circle cx="304.3" cy="330.3" r="4.2"/>
<circle cx="304.3" cy="330.3" r="4.2"/>
<circle cx="304.3" cy="366.7" r="4.2"/>
<circle cx="308.3" cy="267.7" r="4.2"/>
<circle cx="308.3" cy="274.3" r="4.2"/>
<circle cx="308.3" cy="280.9" r="4.2"/>
<circle cx="308.3" cy="316.4" r="4.2"/>
<circle cx="308.3" cy="316.4" r="4.2"/>
<circle cx="308.3" cy="332.3" r="4.2"/>
<circle cx="308.3" cy="329.6" r="4.2"/>
<circle cx="308.3" cy="327.6" r="4.2"/>
<circle cx="308.3" cy="325" r="4.2"/>
<circle cx="312.3" cy="325.6" r="4.2"/>
<circle cx="312.3" cy="340.9" r="4.2"/>
<circle cx="312.3" cy="340.9" r="4.2"/>
<circle cx="312.3" cy="374" r="4.2"/>
<circle cx="320.4" cy="372.7" r="4.2"/>
<circle cx="320.4" cy="372.7" r="4.2"/>
<circle cx="320.4" cy="388.6" r="4.2"/>
<circle cx="320.4" cy="388.6" r="4.2"/>
<circle cx="324.4" cy="323.7" r="4.2"/>
<circle cx="328.4" cy="344.2" r="4.2"/>
<circle cx="328.4" cy="344.2" r="4.2"/>
<circle cx="328.4" cy="344.2" r="4.2"/>
<circle cx="328.4" cy="344.2" r="4.2"/>
<circle cx="332.4" cy="365.4" r="4.2"/>
<circle cx="332.4" cy="365.4" r="4.2"/>
<circle cx="340.5" cy="281.9" r="4.2"/>
<circle cx="380.6" cy="386.6" r="4.2"/>
<circle cx="396.7" cy="305.8" r="4.2"/>
<circle cx="396.7" cy="305.8" r="4.2"/>
<circle cx="228" cy="325.6" r="4.2"/>
<circle cx="228" cy="330.3" r="4.2"/>
<circle cx="232" cy="330.3" r="4.2"/>
<circle cx="232" cy="340.2" r="4.2"/>
<circle cx="236" cy="326.3" r="4.2"/>
<circle cx="236" cy="332.3" r="4.2"/>
<circle cx="236" cy="337.6" r="4.2"/>
<circle cx="236" cy="342.9" r="4.2"/>
<circle cx="244" cy="315.1" r="4.2"/>
<circle cx="244" cy="313.1" r="4.2"/>
<circle cx="244" cy="311.1" r="4.2"/>
<circle cx="244" cy="336.9" r="4.2"/>
<circle cx="244" cy="334.9" r="4.2"/>
<circle cx="244" cy="333.6" r="4.2"/>
<circle cx="244" cy="332.3" r="4.2"/>
<circle cx="244" cy="330.3" r="4.2"/>
<circle cx="244" cy="329" r="4.2"/>
<circle cx="244" cy="327.6" r="4.2"/>
<circle cx="244" cy="325.6" r="4.2"/>
<circle cx="244" cy="343.5" r="4.2"/>
<circle cx="248.1" cy="329" r="4.2"/>
<circle cx="248.1" cy="333.6" r="4.2"/>
<circle cx="252.1" cy="335.6" r="4.2"/>
<circle cx="252.1" cy="333.6" r="4.2"/>
<circle cx="252.1" cy="332.3" r="4.2"/>
<circle cx="252.1" cy="330.3" r="4.2"/>
<circle cx="252.1" cy="328.3" r="4.2"/>
<circle cx="252.1" cy="349.5" r="4.2"/>
<circle cx="252.1" cy="346.8" r="4.2"/>
<circle cx="252.1" cy="344.8" r="4.2"/>
<circle cx="260.1" cy="351.5" r="4.2"/>
<circle cx="260.1" cy="349.5" r="4.2"/>
<circle cx="260.1" cy="346.8" r="4.2"/>
<circle cx="260.1" cy="344.8" r="4.2"/>
<circle cx="260.1" cy="342.9" r="4.2"/>
<circle cx="260.1" cy="341.5" r="4.2"/>
<circle cx="260.1" cy="339.6" r="4.2"/>
<circle cx="260.1" cy="337.6" r="4.2"/>
<circle cx="260.1" cy="334.9" r="4.2"/>
<circle cx="268.1" cy="339.6" r="4.2"/>
<circle cx="268.1" cy="337.6" r="4.2"/>
<circle cx="268.1" cy="334.9" r="4.2"/>
<circle cx="268.1" cy="345.5" r="4.2"/>
<circle cx="268.1" cy="349.5" r="4.2"/>
<circle cx="272.2" cy="313.7" r="4.2"/>
<circle cx="272.2" cy="311.7" r="4.2"/>
<circle cx="272.2" cy="309.8" r="4.2"/>
<circle cx="272.2" cy="329" r="4.2"/>
<circle cx="272.2" cy="327" r="4.2"/>
<circle cx="272.2" cy="325" r="4.2"/>
<circle cx="272.2" cy="323.7" r="4.2"/>
<circle cx="272.2" cy="321.7" r="4.2"/>
<circle cx="272.2" cy="319.7" r="4.2"/>
<circle cx="272.2" cy="355.4" r="4.2"/>
<circle cx="272.2" cy="354.1" r="4.2"/>
<circle cx="272.2" cy="352.8" r="4.2"/>
<circle cx="272.2" cy="351.5" r="4.2"/>
<circle cx="272.2" cy="349.5" r="4.2"/>
<circle cx="272.2" cy="348.2" r="4.2"/>
<circle cx="272.2" cy="346.8" r="4.2"/>
<circle cx="272.2" cy="345.5" r="4.2"/>
<circle cx="272.2" cy="344.2" r="4.2"/>
<circle cx="272.2" cy="342.9" r="4.2"/>
<circle cx="276.2" cy="342.9" r="4.2"/>
<circle cx="276.2" cy="347.5" r="4.2"/>
<circle cx="280.2" cy="311.7" r="4.2"/>
<circle cx="280.2" cy="309.8" r="4.2"/>
<circle cx="284.2" cy="352.1" r="4.2"/>
<circle cx="284.2" cy="350.8" r="4.2"/>
<circle cx="284.2" cy="349.5" r="4.2"/>
<circle cx="284.2" cy="348.2" r="4.2"/>
<circle cx="284.2" cy="346.8" r="4.2"/>
<circle cx="284.2" cy="345.5" r="4.2"/>
<circle cx="284.2" cy="344.2" r="4.2"/>
<circle cx="284.2" cy="343.5" r="4.2"/>
<circle cx="284.2" cy="342.2" r="4.2"/>
<circle cx="284.2" cy="340.9" r="4.2"/>
<circle cx="284.2" cy="339.6" r="4.2"/>
<circle cx="284.2" cy="338.2" r="4.2"/>
<circle cx="284.2" cy="336.9" r="4.2"/>
<circle cx="284.2" cy="335.6" r="4.2"/>
<circle cx="288.2" cy="352.8" r="4.2"/>
<circle cx="288.2" cy="350.8" r="4.2"/>
<circle cx="288.2" cy="349.5" r="4.2"/>
<circle cx="288.2" cy="347.5" r="4.2"/>
<circle cx="288.2" cy="346.2" r="4.2"/>
<circle cx="288.2" cy="344.2" r="4.2"/>
<circle cx="288.2" cy="342.2" r="4.2"/>
<circle cx="288.2" cy="340.9" r="4.2"/>
<circle cx="288.2" cy="338.9" r="4.2"/>
<circle cx="288.2" cy="337.6" r="4.2"/>
<circle cx="288.2" cy="335.6" r="4.2"/>
<circle cx="296.3" cy="351.5" r="4.2"/>
<circle cx="296.3" cy="348.8" r="4.2"/>
<circle cx="296.3" cy="346.2" r="4.2"/>
<circle cx="296.3" cy="343.5" r="4.2"/>
<circle cx="296.3" cy="340.9" r="4.2"/>
<circle cx="300.3" cy="351.5" r="4.2"/>
<circle cx="300.3" cy="349.5" r="4.2"/>
<circle cx="300.3" cy="347.5" r="4.2"/>
<circle cx="300.3" cy="346.2" r="4.2"/>
<circle cx="300.3" cy="344.2" r="4.2"/>
<circle cx="300.3" cy="342.2" r="4.2"/>
<circle cx="300.3" cy="340.2" r="4.2"/>
</g>
<path d="M99.4 158.5 L111.5 177.9 L119.5 190.1 L123.5 196.1 L131.6 207.6 L139.6 218.6 L147.6 229.2 L151.7 234.2 L155.7 239.2 L159.7 244 L167.7 253.3 L174.5 260.8 L175.8 262.1 L179.8 266.3 L187.8 274.4 L191.8 278.2 L195.8 281.9 L199.9 285.5 L203.9 288.9 L207.9 292.3 L211.9 295.5 L215.9 298.6 L219.9 301.5 L228 307.1 L232 309.7 L236 312.1 L244 316.7 L248.1 318.8 L252.1 320.8 L260.1 324.3 L268.1 327.4 L272.2 328.7 L276.2 329.9 L280.2 331 L284.2 332 L288.2 332.9 L296.3 334.2 L300.3 334.7 L304.3 335 L308.3 335.2 L312.3 335.3 L320.4 335.1 L324.4 334.9 L328.4 334.5 L332.4 334 L340.5 332.5 L380.6 318 L396.7 308.7" fill="none" stroke="#ae2039" stroke-width="2" stroke-linejoin="round"/>
<g stroke="#4d4d4d" stroke-width="1.7" stroke-linejoin="round" fill="none">
<rect x="79" y="18.9" width="338.6" height="393.9"/>
<path d="M139.6 18.9v-10.7 M139.6 412.8v10.7"/>
<path d="M219.9 18.9v-10.7 M219.9 412.8v10.7"/>
<path d="M300.3 18.9v-10.7 M300.3 412.8v10.7"/>
<path d="M380.6 18.9v-10.7 M380.6 412.8v10.7"/>
<path d="M79 372h-10.7 M417.6 372h10.7"/>
<path d="M79 305.8h-10.7 M417.6 305.8h10.7"/>
<path d="M79 239.6h-10.7 M417.6 239.6h10.7"/>
<path d="M79 173.3h-10.7 M417.6 173.3h10.7"/>
<path d="M79 107.1h-10.7 M417.6 107.1h10.7"/>
<path d="M79 40.9h-10.7 M417.6 40.9h10.7"/>
</g>
<text transform="translate(139.6 445.5) scale(1.04 1)" text-anchor="middle">2</text>
<text transform="translate(219.9 445.5) scale(1.04 1)" text-anchor="middle">4</text>
<text transform="translate(300.3 445.5) scale(1.04 1)" text-anchor="middle">6</text>
<text transform="translate(380.6 445.5) scale(1.04 1)" text-anchor="middle">8</text>
<text transform="translate(61.5 379.2) scale(1.04 1)" text-anchor="end">20</text>
<text transform="translate(61.5 313) scale(1.04 1)" text-anchor="end">30</text>
<text transform="translate(61.5 246.8) scale(1.04 1)" text-anchor="end">40</text>
<text transform="translate(61.5 180.5) scale(1.04 1)" text-anchor="end">50</text>
<text transform="translate(61.5 114.3) scale(1.04 1)" text-anchor="end">60</text>
<text transform="translate(61.5 48.1) scale(1.04 1)" text-anchor="end">70</text>
<text transform="translate(248.2 477.5) scale(1.04 1)" text-anchor="middle">Engine Displacement</text>
<text transform="translate(21 216.4) rotate(-90) scale(1.04 1)" text-anchor="middle">Fuel Economy</text>
</g>
<g id="right">
<g fill="#303030" fill-opacity="0.6">
<circle cx="789.6" cy="156.4" r="4.2"/>
<circle cx="789.6" cy="156.4" r="4.2"/>
<circle cx="832.1" cy="176.5" r="4.2"/>
<circle cx="816.1" cy="176.5" r="4.2"/>
<circle cx="809.6" cy="176.5" r="4.2"/>
<circle cx="637.2" cy="176.5" r="4.2"/>
<circle cx="626.6" cy="176.5" r="4.2"/>
<circle cx="747.7" cy="189.2" r="4.2"/>
<circle cx="738.8" cy="189.2" r="4.2"/>
<circle cx="727.6" cy="189.2" r="4.2"/>
<circle cx="721.7" cy="189.2" r="4.2"/>
<circle cx="755.3" cy="195.4" r="4.2"/>
<circle cx="755.3" cy="195.4" r="4.2"/>
<circle cx="751.8" cy="195.4" r="4.2"/>
<circle cx="747.7" cy="195.4" r="4.2"/>
<circle cx="731.1" cy="195.4" r="4.2"/>
<circle cx="732.3" cy="195.4" r="4.2"/>
<circle cx="733.5" cy="195.4" r="4.2"/>
<circle cx="734.7" cy="195.4" r="4.2"/>
<circle cx="735.3" cy="195.4" r="4.2"/>
<circle cx="736.4" cy="195.4" r="4.2"/>
<circle cx="737.6" cy="195.4" r="4.2"/>
<circle cx="738.8" cy="195.4" r="4.2"/>
<circle cx="727.6" cy="195.4" r="4.2"/>
<circle cx="722.3" cy="195.4" r="4.2"/>
<circle cx="712.2" cy="195.4" r="4.2"/>
<circle cx="712.2" cy="195.4" r="4.2"/>
<circle cx="712.2" cy="195.4" r="4.2"/>
<circle cx="707.5" cy="195.4" r="4.2"/>
<circle cx="707.5" cy="195.4" r="4.2"/>
<circle cx="704" cy="195.4" r="4.2"/>
<circle cx="696.3" cy="195.4" r="4.2"/>
<circle cx="859.2" cy="207.4" r="4.2"/>
<circle cx="751.2" cy="207.4" r="4.2"/>
<circle cx="747.7" cy="207.4" r="4.2"/>
<circle cx="743.5" cy="207.4" r="4.2"/>
<circle cx="734.1" cy="207.4" r="4.2"/>
<circle cx="727.6" cy="207.4" r="4.2"/>
<circle cx="714" cy="207.4" r="4.2"/>
<circle cx="714" cy="207.4" r="4.2"/>
<circle cx="714" cy="207.4" r="4.2"/>
<circle cx="706.3" cy="207.4" r="4.2"/>
<circle cx="706.3" cy="207.4" r="4.2"/>
<circle cx="694.5" cy="207.4" r="4.2"/>
<circle cx="670.3" cy="207.4" r="4.2"/>
<circle cx="666.8" cy="207.4" r="4.2"/>
<circle cx="803.2" cy="218.8" r="4.2"/>
<circle cx="803.2" cy="218.8" r="4.2"/>
<circle cx="803.2" cy="218.8" r="4.2"/>
<circle cx="793.7" cy="218.8" r="4.2"/>
<circle cx="793.7" cy="218.8" r="4.2"/>
<circle cx="748.8" cy="218.8" r="4.2"/>
<circle cx="739.4" cy="218.8" r="4.2"/>
<circle cx="731.1" cy="218.8" r="4.2"/>
<circle cx="727.6" cy="218.8" r="4.2"/>
<circle cx="727.6" cy="218.8" r="4.2"/>
<circle cx="724" cy="218.8" r="4.2"/>
<circle cx="724" cy="218.8" r="4.2"/>
<circle cx="719.9" cy="218.8" r="4.2"/>
<circle cx="719.9" cy="218.8" r="4.2"/>
<circle cx="715.8" cy="218.8" r="4.2"/>
<circle cx="715.8" cy="218.8" r="4.2"/>
<circle cx="663.2" cy="218.8" r="4.2"/>
<circle cx="665" cy="218.8" r="4.2"/>
<circle cx="666.2" cy="218.8" r="4.2"/>
<circle cx="667.9" cy="218.8" r="4.2"/>
<circle cx="669.1" cy="218.8" r="4.2"/>
<circle cx="670.9" cy="218.8" r="4.2"/>
<circle cx="672.1" cy="218.8" r="4.2"/>
<circle cx="673.9" cy="218.8" r="4.2"/>
<circle cx="675" cy="218.8" r="4.2"/>
<circle cx="676.8" cy="218.8" r="4.2"/>
<circle cx="678" cy="218.8" r="4.2"/>
<circle cx="679.8" cy="218.8" r="4.2"/>
<circle cx="680.9" cy="218.8" r="4.2"/>
<circle cx="682.7" cy="218.8" r="4.2"/>
<circle cx="683.9" cy="218.8" r="4.2"/>
<circle cx="685.7" cy="218.8" r="4.2"/>
<circle cx="686.8" cy="218.8" r="4.2"/>
<circle cx="688" cy="218.8" r="4.2"/>
<circle cx="689.8" cy="218.8" r="4.2"/>
<circle cx="691" cy="218.8" r="4.2"/>
<circle cx="692.7" cy="218.8" r="4.2"/>
<circle cx="693.9" cy="218.8" r="4.2"/>
<circle cx="695.7" cy="218.8" r="4.2"/>
<circle cx="696.9" cy="218.8" r="4.2"/>
<circle cx="698.6" cy="218.8" r="4.2"/>
<circle cx="699.8" cy="218.8" r="4.2"/>
<circle cx="701.6" cy="218.8" r="4.2"/>
<circle cx="702.8" cy="218.8" r="4.2"/>
<circle cx="704.6" cy="218.8" r="4.2"/>
<circle cx="705.7" cy="218.8" r="4.2"/>
<circle cx="707.5" cy="218.8" r="4.2"/>
<circle cx="708.7" cy="218.8" r="4.2"/>
<circle cx="710.5" cy="218.8" r="4.2"/>
<circle cx="651.4" cy="218.8" r="4.2"/>
<circle cx="653.2" cy="218.8" r="4.2"/>
<circle cx="655.6" cy="218.8" r="4.2"/>
<circle cx="657.3" cy="218.8" r="4.2"/>
<circle cx="659.7" cy="218.8" r="4.2"/>
<circle cx="661.5" cy="218.8" r="4.2"/>
<circle cx="645.5" cy="218.8" r="4.2"/>
<circle cx="632.5" cy="218.8" r="4.2"/>
<circle cx="629" cy="218.8" r="4.2"/>
<circle cx="755" cy="229.7" r="4.2"/>
<circle cx="755" cy="229.7" r="4.2"/>
<circle cx="755" cy="229.7" r="4.2"/>
<circle cx="724.9" cy="229.7" r="4.2"/>
<circle cx="724.9" cy="229.7" r="4.2"/>
<circle cx="715.2" cy="229.7" r="4.2"/>
<circle cx="699.2" cy="229.7" r="4.2"/>
<circle cx="678.6" cy="229.7" r="4.2"/>
<circle cx="670.9" cy="229.7" r="4.2"/>
<circle cx="679.2" cy="235" r="4.2"/>
<circle cx="672.7" cy="235" r="4.2"/>
<circle cx="653.8" cy="235" r="4.2"/>
<circle cx="653.8" cy="235" r="4.2"/>
<circle cx="642.6" cy="235" r="4.2"/>
<circle cx="636.7" cy="235" r="4.2"/>
<circle cx="732.9" cy="240.2" r="4.2"/>
<circle cx="732.9" cy="240.2" r="4.2"/>
<circle cx="729.9" cy="240.2" r="4.2"/>
<circle cx="725.2" cy="240.2" r="4.2"/>
<circle cx="725.2" cy="240.2" r="4.2"/>
<circle cx="722.3" cy="240.2" r="4.2"/>
<circle cx="715.8" cy="240.2" r="4.2"/>
<circle cx="715.8" cy="240.2" r="4.2"/>
<circle cx="645.5" cy="240.2" r="4.2"/>
<circle cx="647.3" cy="240.2" r="4.2"/>
<circle cx="648.5" cy="240.2" r="4.2"/>
<circle cx="650.2" cy="240.2" r="4.2"/>
<circle cx="651.4" cy="240.2" r="4.2"/>
<circle cx="653.2" cy="240.2" r="4.2"/>
<circle cx="654.4" cy="240.2" r="4.2"/>
<circle cx="656.1" cy="240.2" r="4.2"/>
<circle cx="657.3" cy="240.2" r="4.2"/>
<circle cx="659.1" cy="240.2" r="4.2"/>
<circle cx="660.3" cy="240.2" r="4.2"/>
<circle cx="662" cy="240.2" r="4.2"/>
<circle cx="663.2" cy="240.2" r="4.2"/>
<circle cx="665" cy="240.2" r="4.2"/>
<circle cx="666.2" cy="240.2" r="4.2"/>
<circle cx="667.9" cy="240.2" r="4.2"/>
<circle cx="669.1" cy="240.2" r="4.2"/>
<circle cx="670.9" cy="240.2" r="4.2"/>
<circle cx="672.1" cy="240.2" r="4.2"/>
<circle cx="673.9" cy="240.2" r="4.2"/>
<circle cx="675" cy="240.2" r="4.2"/>
<circle cx="676.8" cy="240.2" r="4.2"/>
<circle cx="678" cy="240.2" r="4.2"/>
<circle cx="679.2" cy="240.2" r="4.2"/>
<circle cx="680.9" cy="240.2" r="4.2"/>
<circle cx="682.1" cy="240.2" r="4.2"/>
<circle cx="683.9" cy="240.2" r="4.2"/>
<circle cx="685.1" cy="240.2" r="4.2"/>
<circle cx="686.8" cy="240.2" r="4.2"/>
<circle cx="688" cy="240.2" r="4.2"/>
<circle cx="689.8" cy="240.2" r="4.2"/>
<circle cx="691" cy="240.2" r="4.2"/>
<circle cx="692.7" cy="240.2" r="4.2"/>
<circle cx="693.9" cy="240.2" r="4.2"/>
<circle cx="695.7" cy="240.2" r="4.2"/>
<circle cx="696.9" cy="240.2" r="4.2"/>
<circle cx="698.6" cy="240.2" r="4.2"/>
<circle cx="699.8" cy="240.2" r="4.2"/>
<circle cx="701.6" cy="240.2" r="4.2"/>
<circle cx="702.8" cy="240.2" r="4.2"/>
<circle cx="704.6" cy="240.2" r="4.2"/>
<circle cx="705.7" cy="240.2" r="4.2"/>
<circle cx="707.5" cy="240.2" r="4.2"/>
<circle cx="708.7" cy="240.2" r="4.2"/>
<circle cx="710.5" cy="240.2" r="4.2"/>
<circle cx="711.6" cy="240.2" r="4.2"/>
<circle cx="713.4" cy="240.2" r="4.2"/>
<circle cx="636.7" cy="240.2" r="4.2"/>
<circle cx="639" cy="240.2" r="4.2"/>
<circle cx="641.4" cy="240.2" r="4.2"/>
<circle cx="643.7" cy="240.2" r="4.2"/>
<circle cx="753" cy="245.2" r="4.2"/>
<circle cx="753" cy="245.2" r="4.2"/>
<circle cx="729.9" cy="245.2" r="4.2"/>
<circle cx="729.9" cy="245.2" r="4.2"/>
<circle cx="724" cy="245.2" r="4.2"/>
<circle cx="719.9" cy="245.2" r="4.2"/>
<circle cx="719.9" cy="245.2" r="4.2"/>
<circle cx="645.5" cy="245.2" r="4.2"/>
<circle cx="647.3" cy="245.2" r="4.2"/>
<circle cx="648.5" cy="245.2" r="4.2"/>
<circle cx="650.2" cy="245.2" r="4.2"/>
<circle cx="651.4" cy="245.2" r="4.2"/>
<circle cx="653.2" cy="245.2" r="4.2"/>
<circle cx="654.4" cy="245.2" r="4.2"/>
<circle cx="656.1" cy="245.2" r="4.2"/>
<circle cx="657.3" cy="245.2" r="4.2"/>
<circle cx="659.1" cy="245.2" r="4.2"/>
<circle cx="660.3" cy="245.2" r="4.2"/>
<circle cx="662" cy="245.2" r="4.2"/>
<circle cx="663.2" cy="245.2" r="4.2"/>
<circle cx="665" cy="245.2" r="4.2"/>
<circle cx="666.2" cy="245.2" r="4.2"/>
<circle cx="667.9" cy="245.2" r="4.2"/>
<circle cx="669.1" cy="245.2" r="4.2"/>
<circle cx="670.9" cy="245.2" r="4.2"/>
<circle cx="672.1" cy="245.2" r="4.2"/>
<circle cx="673.9" cy="245.2" r="4.2"/>
<circle cx="675" cy="245.2" r="4.2"/>
<circle cx="676.8" cy="245.2" r="4.2"/>
<circle cx="678" cy="245.2" r="4.2"/>
<circle cx="679.8" cy="245.2" r="4.2"/>
<circle cx="680.9" cy="245.2" r="4.2"/>
<circle cx="682.1" cy="245.2" r="4.2"/>
<circle cx="683.9" cy="245.2" r="4.2"/>
<circle cx="685.1" cy="245.2" r="4.2"/>
<circle cx="686.8" cy="245.2" r="4.2"/>
<circle cx="688" cy="245.2" r="4.2"/>
<circle cx="689.8" cy="245.2" r="4.2"/>
<circle cx="691" cy="245.2" r="4.2"/>
<circle cx="692.7" cy="245.2" r="4.2"/>
<circle cx="693.9" cy="245.2" r="4.2"/>
<circle cx="695.7" cy="245.2" r="4.2"/>
<circle cx="696.9" cy="245.2" r="4.2"/>
<circle cx="698.6" cy="245.2" r="4.2"/>
<circle cx="699.8" cy="245.2" r="4.2"/>
<circle cx="701.6" cy="245.2" r="4.2"/>
<circle cx="702.8" cy="245.2" r="4.2"/>
<circle cx="704.6" cy="245.2" r="4.2"/>
<circle cx="705.7" cy="245.2" r="4.2"/>
<circle cx="707.5" cy="245.2" r="4.2"/>
<circle cx="708.7" cy="245.2" r="4.2"/>
<circle cx="710.5" cy="245.2" r="4.2"/>
<circle cx="711.6" cy="245.2" r="4.2"/>
<circle cx="713.4" cy="245.2" r="4.2"/>
<circle cx="714.6" cy="245.2" r="4.2"/>
<circle cx="716.4" cy="245.2" r="4.2"/>
<circle cx="635.5" cy="245.2" r="4.2"/>
<circle cx="638.4" cy="245.2" r="4.2"/>
<circle cx="640.8" cy="245.2" r="4.2"/>
<circle cx="643.7" cy="245.2" r="4.2"/>
<circle cx="627.2" cy="245.2" r="4.2"/>
<circle cx="627.2" cy="245.2" r="4.2"/>
<circle cx="688.6" cy="254.8" r="4.2"/>
<circle cx="683.3" cy="254.8" r="4.2"/>
<circle cx="657.3" cy="254.8" r="4.2"/>
<circle cx="659.7" cy="254.8" r="4.2"/>
<circle cx="662.6" cy="254.8" r="4.2"/>
<circle cx="665" cy="254.8" r="4.2"/>
<circle cx="667.4" cy="254.8" r="4.2"/>
<circle cx="669.7" cy="254.8" r="4.2"/>
<circle cx="672.7" cy="254.8" r="4.2"/>
<circle cx="675" cy="254.8" r="4.2"/>
<circle cx="642.6" cy="254.8" r="4.2"/>
<circle cx="633.1" cy="254.8" r="4.2"/>
<circle cx="627.8" cy="254.8" r="4.2"/>
<circle cx="648.5" cy="262.6" r="4.2"/>
<circle cx="650.8" cy="262.6" r="4.2"/>
<circle cx="653.8" cy="262.6" r="4.2"/>
<circle cx="656.1" cy="262.6" r="4.2"/>
<circle cx="640.2" cy="262.6" r="4.2"/>
<circle cx="692.2" cy="263.9" r="4.2"/>
<circle cx="750" cy="268.3" r="4.2"/>
<circle cx="632.5" cy="268.3" r="4.2"/>
<circle cx="634.3" cy="268.3" r="4.2"/>
<circle cx="635.5" cy="268.3" r="4.2"/>
<circle cx="637.2" cy="268.3" r="4.2"/>
<circle cx="638.4" cy="268.3" r="4.2"/>
<circle cx="640.2" cy="268.3" r="4.2"/>
<circle cx="641.4" cy="268.3" r="4.2"/>
<circle cx="643.2" cy="268.3" r="4.2"/>
<circle cx="644.3" cy="268.3" r="4.2"/>
<circle cx="646.1" cy="268.3" r="4.2"/>
<circle cx="647.3" cy="268.3" r="4.2"/>
<circle cx="649.1" cy="268.3" r="4.2"/>
<circle cx="650.2" cy="268.3" r="4.2"/>
<circle cx="652" cy="268.3" r="4.2"/>
<circle cx="653.2" cy="268.3" r="4.2"/>
<circle cx="655" cy="268.3" r="4.2"/>
<circle cx="656.1" cy="268.3" r="4.2"/>
<circle cx="657.9" cy="268.3" r="4.2"/>
<circle cx="659.1" cy="268.3" r="4.2"/>
<circle cx="660.3" cy="268.3" r="4.2"/>
<circle cx="662" cy="268.3" r="4.2"/>
<circle cx="663.2" cy="268.3" r="4.2"/>
<circle cx="665" cy="268.3" r="4.2"/>
<circle cx="666.2" cy="268.3" r="4.2"/>
<circle cx="667.9" cy="268.3" r="4.2"/>
<circle cx="669.1" cy="268.3" r="4.2"/>
<circle cx="670.9" cy="268.3" r="4.2"/>
<circle cx="672.1" cy="268.3" r="4.2"/>
<circle cx="673.9" cy="268.3" r="4.2"/>
<circle cx="675" cy="268.3" r="4.2"/>
<circle cx="676.8" cy="268.3" r="4.2"/>
<circle cx="678" cy="268.3" r="4.2"/>
<circle cx="679.8" cy="268.3" r="4.2"/>
<circle cx="680.9" cy="268.3" r="4.2"/>
<circle cx="682.7" cy="268.3" r="4.2"/>
<circle cx="623.7" cy="268.3" r="4.2"/>
<circle cx="623.7" cy="268.3" r="4.2"/>
<circle cx="633.1" cy="268.3" r="4.2"/>
<circle cx="623.1" cy="268.3" r="4.2"/>
<circle cx="677.4" cy="276.6" r="4.2"/>
<circle cx="663.2" cy="276.6" r="4.2"/>
<circle cx="663.2" cy="276.6" r="4.2"/>
<circle cx="650.8" cy="276.6" r="4.2"/>
<circle cx="643.7" cy="276.6" r="4.2"/>
<circle cx="638.4" cy="276.6" r="4.2"/>
<circle cx="628.4" cy="276.6" r="4.2"/>
<circle cx="623.7" cy="276.6" r="4.2"/>
<circle cx="623.7" cy="276.6" r="4.2"/>
<circle cx="627.8" cy="276.6" r="4.2"/>
<circle cx="624.8" cy="276.6" r="4.2"/>
<circle cx="685.1" cy="280.6" r="4.2"/>
<circle cx="657.9" cy="280.6" r="4.2"/>
<circle cx="650.8" cy="280.6" r="4.2"/>
<circle cx="686.8" cy="284.5" r="4.2"/>
<circle cx="686.8" cy="284.5" r="4.2"/>
<circle cx="607.7" cy="288.2" r="4.2"/>
<circle cx="608.9" cy="288.2" r="4.2"/>
<circle cx="610.1" cy="288.2" r="4.2"/>
<circle cx="611.3" cy="288.2" r="4.2"/>
<circle cx="612.5" cy="288.2" r="4.2"/>
<circle cx="613.6" cy="288.2" r="4.2"/>
<circle cx="614.8" cy="288.2" r="4.2"/>
<circle cx="616" cy="288.2" r="4.2"/>
<circle cx="617.2" cy="288.2" r="4.2"/>
<circle cx="618.4" cy="288.2" r="4.2"/>
<circle cx="619.5" cy="288.2" r="4.2"/>
<circle cx="620.7" cy="288.2" r="4.2"/>
<circle cx="621.9" cy="288.2" r="4.2"/>
<circle cx="623.1" cy="288.2" r="4.2"/>
<circle cx="624.3" cy="288.2" r="4.2"/>
<circle cx="625.4" cy="288.2" r="4.2"/>
<circle cx="626.6" cy="288.2" r="4.2"/>
<circle cx="627.8" cy="288.2" r="4.2"/>
<circle cx="629" cy="288.2" r="4.2"/>
<circle cx="630.2" cy="288.2" r="4.2"/>
<circle cx="631.3" cy="288.2" r="4.2"/>
<circle cx="632.5" cy="288.2" r="4.2"/>
<circle cx="633.7" cy="288.2" r="4.2"/>
<circle cx="634.9" cy="288.2" r="4.2"/>
<circle cx="636.1" cy="288.2" r="4.2"/>
<circle cx="637.2" cy="288.2" r="4.2"/>
<circle cx="638.4" cy="288.2" r="4.2"/>
<circle cx="639.6" cy="288.2" r="4.2"/>
<circle cx="640.8" cy="288.2" r="4.2"/>
<circle cx="642" cy="288.2" r="4.2"/>
<circle cx="643.2" cy="288.2" r="4.2"/>
<circle cx="644.3" cy="288.2" r="4.2"/>
<circle cx="645.5" cy="288.2" r="4.2"/>
<circle cx="646.7" cy="288.2" r="4.2"/>
<circle cx="647.9" cy="288.2" r="4.2"/>
<circle cx="649.1" cy="288.2" r="4.2"/>
<circle cx="650.8" cy="288.2" r="4.2"/>
<circle cx="652" cy="288.2" r="4.2"/>
<circle cx="653.2" cy="288.2" r="4.2"/>
<circle cx="654.4" cy="288.2" r="4.2"/>
<circle cx="655.6" cy="288.2" r="4.2"/>
<circle cx="656.7" cy="288.2" r="4.2"/>
<circle cx="657.9" cy="288.2" r="4.2"/>
<circle cx="659.1" cy="288.2" r="4.2"/>
<circle cx="660.3" cy="288.2" r="4.2"/>
<circle cx="661.5" cy="288.2" r="4.2"/>
<circle cx="662.6" cy="288.2" r="4.2"/>
<circle cx="663.8" cy="288.2" r="4.2"/>
<circle cx="665" cy="288.2" r="4.2"/>
<circle cx="666.2" cy="288.2" r="4.2"/>
<circle cx="667.4" cy="288.2" r="4.2"/>
<circle cx="668.5" cy="288.2" r="4.2"/>
<circle cx="669.7" cy="288.2" r="4.2"/>
<circle cx="670.9" cy="288.2" r="4.2"/>
<circle cx="672.1" cy="288.2" r="4.2"/>
<circle cx="673.3" cy="288.2" r="4.2"/>
<circle cx="674.4" cy="288.2" r="4.2"/>
<circle cx="675.6" cy="288.2" r="4.2"/>
<circle cx="676.8" cy="288.2" r="4.2"/>
<circle cx="678" cy="288.2" r="4.2"/>
<circle cx="679.2" cy="288.2" r="4.2"/>
<circle cx="680.3" cy="288.2" r="4.2"/>
<circle cx="681.5" cy="288.2" r="4.2"/>
<circle cx="682.7" cy="288.2" r="4.2"/>
<circle cx="683.9" cy="288.2" r="4.2"/>
<circle cx="685.1" cy="288.2" r="4.2"/>
<circle cx="686.3" cy="288.2" r="4.2"/>
<circle cx="687.4" cy="288.2" r="4.2"/>
<circle cx="688.6" cy="288.2" r="4.2"/>
<circle cx="689.8" cy="288.2" r="4.2"/>
<circle cx="691" cy="288.2" r="4.2"/>
<circle cx="692.2" cy="288.2" r="4.2"/>
<circle cx="600.6" cy="288.2" r="4.2"/>
<circle cx="683.3" cy="291.8" r="4.2"/>
<circle cx="685.1" cy="291.8" r="4.2"/>
<circle cx="686.8" cy="291.8" r="4.2"/>
<circle cx="596.5" cy="291.8" r="4.2"/>
<circle cx="598.3" cy="291.8" r="4.2"/>
<circle cx="599.5" cy="291.8" r="4.2"/>
<circle cx="601.2" cy="291.8" r="4.2"/>
<circle cx="602.4" cy="291.8" r="4.2"/>
<circle cx="604.2" cy="291.8" r="4.2"/>
<circle cx="605.4" cy="291.8" r="4.2"/>
<circle cx="607.1" cy="291.8" r="4.2"/>
<circle cx="608.3" cy="291.8" r="4.2"/>
<circle cx="610.1" cy="291.8" r="4.2"/>
<circle cx="611.3" cy="291.8" r="4.2"/>
<circle cx="613" cy="291.8" r="4.2"/>
<circle cx="614.2" cy="291.8" r="4.2"/>
<circle cx="616" cy="291.8" r="4.2"/>
<circle cx="617.2" cy="291.8" r="4.2"/>
<circle cx="618.9" cy="291.8" r="4.2"/>
<circle cx="620.1" cy="291.8" r="4.2"/>
<circle cx="621.9" cy="291.8" r="4.2"/>
<circle cx="623.1" cy="291.8" r="4.2"/>
<circle cx="624.8" cy="291.8" r="4.2"/>
<circle cx="626" cy="291.8" r="4.2"/>
<circle cx="627.8" cy="291.8" r="4.2"/>
<circle cx="629" cy="291.8" r="4.2"/>
<circle cx="630.8" cy="291.8" r="4.2"/>
<circle cx="631.9" cy="291.8" r="4.2"/>
<circle cx="633.7" cy="291.8" r="4.2"/>
<circle cx="634.9" cy="291.8" r="4.2"/>
<circle cx="636.1" cy="291.8" r="4.2"/>
<circle cx="637.8" cy="291.8" r="4.2"/>
<circle cx="639" cy="291.8" r="4.2"/>
<circle cx="640.8" cy="291.8" r="4.2"/>
<circle cx="642" cy="291.8" r="4.2"/>
<circle cx="643.7" cy="291.8" r="4.2"/>
<circle cx="644.9" cy="291.8" r="4.2"/>
<circle cx="646.7" cy="291.8" r="4.2"/>
<circle cx="647.9" cy="291.8" r="4.2"/>
<circle cx="649.6" cy="291.8" r="4.2"/>
<circle cx="650.8" cy="291.8" r="4.2"/>
<circle cx="652.6" cy="291.8" r="4.2"/>
<circle cx="653.8" cy="291.8" r="4.2"/>
<circle cx="655.6" cy="291.8" r="4.2"/>
<circle cx="656.7" cy="291.8" r="4.2"/>
<circle cx="658.5" cy="291.8" r="4.2"/>
<circle cx="659.7" cy="291.8" r="4.2"/>
<circle cx="661.5" cy="291.8" r="4.2"/>
<circle cx="662.6" cy="291.8" r="4.2"/>
<circle cx="664.4" cy="291.8" r="4.2"/>
<circle cx="665.6" cy="291.8" r="4.2"/>
<circle cx="667.4" cy="291.8" r="4.2"/>
<circle cx="668.5" cy="291.8" r="4.2"/>
<circle cx="670.3" cy="291.8" r="4.2"/>
<circle cx="671.5" cy="291.8" r="4.2"/>
<circle cx="673.3" cy="291.8" r="4.2"/>
<circle cx="676.2" cy="295.2" r="4.2"/>
<circle cx="596.5" cy="295.2" r="4.2"/>
<circle cx="598.3" cy="295.2" r="4.2"/>
<circle cx="599.5" cy="295.2" r="4.2"/>
<circle cx="601.2" cy="295.2" r="4.2"/>
<circle cx="602.4" cy="295.2" r="4.2"/>
<circle cx="604.2" cy="295.2" r="4.2"/>
<circle cx="605.4" cy="295.2" r="4.2"/>
<circle cx="607.1" cy="295.2" r="4.2"/>
<circle cx="608.3" cy="295.2" r="4.2"/>
<circle cx="610.1" cy="295.2" r="4.2"/>
<circle cx="611.3" cy="295.2" r="4.2"/>
<circle cx="613" cy="295.2" r="4.2"/>
<circle cx="614.2" cy="295.2" r="4.2"/>
<circle cx="615.4" cy="295.2" r="4.2"/>
<circle cx="617.2" cy="295.2" r="4.2"/>
<circle cx="618.4" cy="295.2" r="4.2"/>
<circle cx="620.1" cy="295.2" r="4.2"/>
<circle cx="621.3" cy="295.2" r="4.2"/>
<circle cx="623.1" cy="295.2" r="4.2"/>
<circle cx="624.3" cy="295.2" r="4.2"/>
<circle cx="626" cy="295.2" r="4.2"/>
<circle cx="627.2" cy="295.2" r="4.2"/>
<circle cx="629" cy="295.2" r="4.2"/>
<circle cx="630.2" cy="295.2" r="4.2"/>
<circle cx="631.9" cy="295.2" r="4.2"/>
<circle cx="633.1" cy="295.2" r="4.2"/>
<circle cx="634.9" cy="295.2" r="4.2"/>
<circle cx="636.1" cy="295.2" r="4.2"/>
<circle cx="637.8" cy="295.2" r="4.2"/>
<circle cx="639" cy="295.2" r="4.2"/>
<circle cx="640.8" cy="295.2" r="4.2"/>
<circle cx="642" cy="295.2" r="4.2"/>
<circle cx="643.7" cy="295.2" r="4.2"/>
<circle cx="644.9" cy="295.2" r="4.2"/>
<circle cx="646.7" cy="295.2" r="4.2"/>
<circle cx="647.9" cy="295.2" r="4.2"/>
<circle cx="649.6" cy="295.2" r="4.2"/>
<circle cx="650.8" cy="295.2" r="4.2"/>
<circle cx="652.6" cy="295.2" r="4.2"/>
<circle cx="653.8" cy="295.2" r="4.2"/>
<circle cx="655" cy="295.2" r="4.2"/>
<circle cx="656.7" cy="295.2" r="4.2"/>
<circle cx="657.9" cy="295.2" r="4.2"/>
<circle cx="659.7" cy="295.2" r="4.2"/>
<circle cx="660.9" cy="295.2" r="4.2"/>
<circle cx="662.6" cy="295.2" r="4.2"/>
<circle cx="663.8" cy="295.2" r="4.2"/>
<circle cx="665.6" cy="295.2" r="4.2"/>
<circle cx="666.8" cy="295.2" r="4.2"/>
<circle cx="668.5" cy="295.2" r="4.2"/>
<circle cx="669.7" cy="295.2" r="4.2"/>
<circle cx="671.5" cy="295.2" r="4.2"/>
<circle cx="593" cy="295.2" r="4.2"/>
<circle cx="674.1" cy="298.6" r="4.2"/>
<circle cx="608.9" cy="298.6" r="4.2"/>
<circle cx="611.3" cy="298.6" r="4.2"/>
<circle cx="613.6" cy="298.6" r="4.2"/>
<circle cx="616" cy="298.6" r="4.2"/>
<circle cx="618.4" cy="298.6" r="4.2"/>
<circle cx="620.7" cy="298.6" r="4.2"/>
<circle cx="623.1" cy="298.6" r="4.2"/>
<circle cx="624.8" cy="298.6" r="4.2"/>
<circle cx="627.2" cy="298.6" r="4.2"/>
<circle cx="629.6" cy="298.6" r="4.2"/>
<circle cx="631.9" cy="298.6" r="4.2"/>
<circle cx="634.3" cy="298.6" r="4.2"/>
<circle cx="636.7" cy="298.6" r="4.2"/>
<circle cx="639" cy="298.6" r="4.2"/>
<circle cx="641.4" cy="298.6" r="4.2"/>
<circle cx="643.7" cy="298.6" r="4.2"/>
<circle cx="646.1" cy="298.6" r="4.2"/>
<circle cx="648.5" cy="298.6" r="4.2"/>
<circle cx="650.8" cy="298.6" r="4.2"/>
<circle cx="653.2" cy="298.6" r="4.2"/>
<circle cx="655" cy="298.6" r="4.2"/>
<circle cx="657.3" cy="298.6" r="4.2"/>
<circle cx="659.7" cy="298.6" r="4.2"/>
<circle cx="662" cy="298.6" r="4.2"/>
<circle cx="664.4" cy="298.6" r="4.2"/>
<circle cx="666.8" cy="298.6" r="4.2"/>
<circle cx="669.1" cy="298.6" r="4.2"/>
<circle cx="668.5" cy="301.8" r="4.2"/>
<circle cx="664.4" cy="301.8" r="4.2"/>
<circle cx="663.2" cy="304.8" r="4.2"/>
<circle cx="656.1" cy="304.8" r="4.2"/>
<circle cx="656.1" cy="304.8" r="4.2"/>
<circle cx="642.6" cy="304.8" r="4.2"/>
<circle cx="634.9" cy="304.8" r="4.2"/>
<circle cx="593" cy="304.8" r="4.2"/>
<circle cx="594.7" cy="304.8" r="4.2"/>
<circle cx="596.5" cy="304.8" r="4.2"/>
<circle cx="598.3" cy="304.8" r="4.2"/>
<circle cx="600.1" cy="304.8" r="4.2"/>
<circle cx="601.8" cy="304.8" r="4.2"/>
<circle cx="603.6" cy="304.8" r="4.2"/>
<circle cx="605.4" cy="304.8" r="4.2"/>
<circle cx="607.1" cy="304.8" r="4.2"/>
<circle cx="608.9" cy="304.8" r="4.2"/>
<circle cx="610.1" cy="304.8" r="4.2"/>
<circle cx="611.9" cy="304.8" r="4.2"/>
<circle cx="613.6" cy="304.8" r="4.2"/>
<circle cx="615.4" cy="304.8" r="4.2"/>
<circle cx="617.2" cy="304.8" r="4.2"/>
<circle cx="618.9" cy="304.8" r="4.2"/>
<circle cx="620.7" cy="304.8" r="4.2"/>
<circle cx="622.5" cy="304.8" r="4.2"/>
<circle cx="624.3" cy="304.8" r="4.2"/>
<circle cx="626" cy="304.8" r="4.2"/>
<circle cx="627.8" cy="304.8" r="4.2"/>
<circle cx="652" cy="310.6" r="4.2"/>
<circle cx="634.3" cy="310.6" r="4.2"/>
<circle cx="634.3" cy="310.6" r="4.2"/>
<circle cx="620.1" cy="310.6" r="4.2"/>
<circle cx="612.5" cy="310.6" r="4.2"/>
<circle cx="612.5" cy="310.6" r="4.2"/>
<circle cx="607.7" cy="310.6" r="4.2"/>
<circle cx="603.6" cy="310.6" r="4.2"/>
<circle cx="600.1" cy="310.6" r="4.2"/>
<circle cx="597.7" cy="310.6" r="4.2"/>
<circle cx="593" cy="310.6" r="4.2"/>
<circle cx="595.3" cy="310.6" r="4.2"/>
<circle cx="613.6" cy="313.3" r="4.2"/>
<circle cx="613.6" cy="313.3" r="4.2"/>
<circle cx="603.6" cy="313.3" r="4.2"/>
<circle cx="594.7" cy="313.3" r="4.2"/>
<circle cx="636.1" cy="315.8" r="4.2"/>
<circle cx="630.2" cy="315.8" r="4.2"/>
<circle cx="630.2" cy="315.8" r="4.2"/>
<circle cx="625.4" cy="315.8" r="4.2"/>
<circle cx="611.9" cy="315.8" r="4.2"/>
<circle cx="611.9" cy="315.8" r="4.2"/>
<circle cx="607.1" cy="315.8" r="4.2"/>
<circle cx="601.8" cy="315.8" r="4.2"/>
<circle cx="597.1" cy="315.8" r="4.2"/>
<circle cx="592.4" cy="315.8" r="4.2"/>
<circle cx="586.5" cy="315.8" r="4.2"/>
<circle cx="584.7" cy="315.8" r="4.2"/>
<circle cx="646.7" cy="320.6" r="4.2"/>
<circle cx="648.5" cy="320.6" r="4.2"/>
<circle cx="650.2" cy="320.6" r="4.2"/>
<circle cx="636.1" cy="320.6" r="4.2"/>
<circle cx="637.8" cy="320.6" r="4.2"/>
<circle cx="630.2" cy="320.6" r="4.2"/>
<circle cx="617.2" cy="320.6" r="4.2"/>
<circle cx="618.9" cy="320.6" r="4.2"/>
<circle cx="620.7" cy="320.6" r="4.2"/>
<circle cx="622.5" cy="320.6" r="4.2"/>
<circle cx="624.3" cy="320.6" r="4.2"/>
<circle cx="597.7" cy="320.6" r="4.2"/>
<circle cx="599.5" cy="320.6" r="4.2"/>
<circle cx="600.6" cy="320.6" r="4.2"/>
<circle cx="601.8" cy="320.6" r="4.2"/>
<circle cx="603.6" cy="320.6" r="4.2"/>
<circle cx="604.8" cy="320.6" r="4.2"/>
<circle cx="606" cy="320.6" r="4.2"/>
<circle cx="607.7" cy="320.6" r="4.2"/>
<circle cx="591.8" cy="320.6" r="4.2"/>
<circle cx="581.8" cy="320.6" r="4.2"/>
<circle cx="637.2" cy="322.7" r="4.2"/>
<circle cx="631.3" cy="322.7" r="4.2"/>
<circle cx="625.4" cy="322.7" r="4.2"/>
<circle cx="604.8" cy="322.7" r="4.2"/>
<circle cx="600.6" cy="322.7" r="4.2"/>
<circle cx="644.3" cy="324.8" r="4.2"/>
<circle cx="631.9" cy="324.8" r="4.2"/>
<circle cx="633.7" cy="324.8" r="4.2"/>
<circle cx="636.1" cy="324.8" r="4.2"/>
<circle cx="618.4" cy="324.8" r="4.2"/>
<circle cx="617.8" cy="324.8" r="4.2"/>
<circle cx="598.9" cy="324.8" r="4.2"/>
<circle cx="600.6" cy="324.8" r="4.2"/>
<circle cx="601.8" cy="324.8" r="4.2"/>
<circle cx="603.6" cy="324.8" r="4.2"/>
<circle cx="605.4" cy="324.8" r="4.2"/>
<circle cx="586.5" cy="324.8" r="4.2"/>
<circle cx="588.8" cy="324.8" r="4.2"/>
<circle cx="590.6" cy="324.8" r="4.2"/>
<circle cx="642" cy="328.5" r="4.2"/>
<circle cx="642" cy="328.5" r="4.2"/>
<circle cx="622.5" cy="328.5" r="4.2"/>
<circle cx="624.3" cy="328.5" r="4.2"/>
<circle cx="626" cy="328.5" r="4.2"/>
<circle cx="628.4" cy="328.5" r="4.2"/>
<circle cx="630.2" cy="328.5" r="4.2"/>
<circle cx="631.9" cy="328.5" r="4.2"/>
<circle cx="633.7" cy="328.5" r="4.2"/>
<circle cx="610.1" cy="328.5" r="4.2"/>
<circle cx="584.7" cy="328.5" r="4.2"/>
<circle cx="586.5" cy="328.5" r="4.2"/>
<circle cx="588.8" cy="328.5" r="4.2"/>
<circle cx="590.6" cy="328.5" r="4.2"/>
<circle cx="592.4" cy="328.5" r="4.2"/>
<circle cx="593.6" cy="328.5" r="4.2"/>
<circle cx="595.3" cy="328.5" r="4.2"/>
<circle cx="597.1" cy="328.5" r="4.2"/>
<circle cx="599.5" cy="328.5" r="4.2"/>
<circle cx="595.3" cy="331.7" r="4.2"/>
<circle cx="597.1" cy="331.7" r="4.2"/>
<circle cx="599.5" cy="331.7" r="4.2"/>
<circle cx="590" cy="331.7" r="4.2"/>
<circle cx="586.5" cy="331.7" r="4.2"/>
<circle cx="618.4" cy="333.1" r="4.2"/>
<circle cx="620.1" cy="333.1" r="4.2"/>
<circle cx="621.9" cy="333.1" r="4.2"/>
<circle cx="624.3" cy="333.1" r="4.2"/>
<circle cx="626" cy="333.1" r="4.2"/>
<circle cx="627.8" cy="333.1" r="4.2"/>
<circle cx="604.8" cy="333.1" r="4.2"/>
<circle cx="606.5" cy="333.1" r="4.2"/>
<circle cx="608.3" cy="333.1" r="4.2"/>
<circle cx="609.5" cy="333.1" r="4.2"/>
<circle cx="611.3" cy="333.1" r="4.2"/>
<circle cx="613" cy="333.1" r="4.2"/>
<circle cx="578.8" cy="333.1" r="4.2"/>
<circle cx="580" cy="333.1" r="4.2"/>
<circle cx="581.2" cy="333.1" r="4.2"/>
<circle cx="582.3" cy="333.1" r="4.2"/>
<circle cx="583.5" cy="333.1" r="4.2"/>
<circle cx="584.7" cy="333.1" r="4.2"/>
<circle cx="586.5" cy="333.1" r="4.2"/>
<circle cx="587.7" cy="333.1" r="4.2"/>
<circle cx="588.8" cy="333.1" r="4.2"/>
<circle cx="590" cy="333.1" r="4.2"/>
<circle cx="591.2" cy="333.1" r="4.2"/>
<circle cx="592.4" cy="333.1" r="4.2"/>
<circle cx="626.6" cy="334.3" r="4.2"/>
<circle cx="608" cy="334.3" r="4.2"/>
<circle cx="608" cy="334.3" r="4.2"/>
<circle cx="597.1" cy="334.3" r="4.2"/>
<circle cx="592.4" cy="334.3" r="4.2"/>
<circle cx="588.2" cy="334.3" r="4.2"/>
<circle cx="571.7" cy="334.3" r="4.2"/>
<circle cx="643.7" cy="335.5" r="4.2"/>
<circle cx="636.7" cy="335.5" r="4.2"/>
<circle cx="636.7" cy="335.5" r="4.2"/>
<circle cx="630.2" cy="335.5" r="4.2"/>
<circle cx="620.1" cy="335.5" r="4.2"/>
<circle cx="621.9" cy="335.5" r="4.2"/>
<circle cx="624.3" cy="335.5" r="4.2"/>
<circle cx="626" cy="335.5" r="4.2"/>
<circle cx="618.9" cy="335.5" r="4.2"/>
<circle cx="618.9" cy="335.5" r="4.2"/>
<circle cx="608.9" cy="335.5" r="4.2"/>
<circle cx="608.9" cy="335.5" r="4.2"/>
<circle cx="597.7" cy="335.5" r="4.2"/>
<circle cx="594.7" cy="335.5" r="4.2"/>
<circle cx="577.6" cy="335.5" r="4.2"/>
<circle cx="574.7" cy="335.5" r="4.2"/>
<circle cx="566.4" cy="335.5" r="4.2"/>
<circle cx="584.1" cy="336.5" r="4.2"/>
<circle cx="585.3" cy="336.5" r="4.2"/>
<circle cx="586.5" cy="336.5" r="4.2"/>
<circle cx="587.7" cy="336.5" r="4.2"/>
<circle cx="588.8" cy="336.5" r="4.2"/>
<circle cx="590" cy="336.5" r="4.2"/>
<circle cx="591.2" cy="336.5" r="4.2"/>
<circle cx="591.8" cy="336.5" r="4.2"/>
<circle cx="593" cy="336.5" r="4.2"/>
<circle cx="594.1" cy="336.5" r="4.2"/>
<circle cx="595.3" cy="336.5" r="4.2"/>
<circle cx="596.5" cy="336.5" r="4.2"/>
<circle cx="597.7" cy="336.5" r="4.2"/>
<circle cx="598.9" cy="336.5" r="4.2"/>
<circle cx="651.7" cy="337.3" r="4.2"/>
<circle cx="651.7" cy="337.3" r="4.2"/>
<circle cx="646.1" cy="337.3" r="4.2"/>
<circle cx="636.4" cy="337.3" r="4.2"/>
<circle cx="636.4" cy="337.3" r="4.2"/>
<circle cx="608.9" cy="337.3" r="4.2"/>
<circle cx="608.9" cy="337.3" r="4.2"/>
<circle cx="583.5" cy="337.3" r="4.2"/>
<circle cx="585.3" cy="337.3" r="4.2"/>
<circle cx="586.5" cy="337.3" r="4.2"/>
<circle cx="588.2" cy="337.3" r="4.2"/>
<circle cx="589.4" cy="337.3" r="4.2"/>
<circle cx="591.2" cy="337.3" r="4.2"/>
<circle cx="593" cy="337.3" r="4.2"/>
<circle cx="594.1" cy="337.3" r="4.2"/>
<circle cx="595.9" cy="337.3" r="4.2"/>
<circle cx="597.1" cy="337.3" r="4.2"/>
<circle cx="598.9" cy="337.3" r="4.2"/>
<circle cx="576.4" cy="337.3" r="4.2"/>
<circle cx="576.4" cy="337.3" r="4.2"/>
<circle cx="571.7" cy="337.3" r="4.2"/>
<circle cx="609.8" cy="338.7" r="4.2"/>
<circle cx="584.7" cy="338.7" r="4.2"/>
<circle cx="587.1" cy="338.7" r="4.2"/>
<circle cx="589.4" cy="338.7" r="4.2"/>
<circle cx="591.8" cy="338.7" r="4.2"/>
<circle cx="594.1" cy="338.7" r="4.2"/>
<circle cx="627.2" cy="339.2" r="4.2"/>
<circle cx="627.2" cy="339.2" r="4.2"/>
<circle cx="627.2" cy="339.2" r="4.2"/>
<circle cx="627.2" cy="339.2" r="4.2"/>
<circle cx="584.7" cy="339.2" r="4.2"/>
<circle cx="586.5" cy="339.2" r="4.2"/>
<circle cx="588.2" cy="339.2" r="4.2"/>
<circle cx="589.4" cy="339.2" r="4.2"/>
<circle cx="591.2" cy="339.2" r="4.2"/>
<circle cx="593" cy="339.2" r="4.2"/>
<circle cx="594.7" cy="339.2" r="4.2"/>
<circle cx="576.4" cy="339.2" r="4.2"/>
<circle cx="573.5" cy="339.2" r="4.2"/>
<circle cx="626" cy="339.6" r="4.2"/>
<circle cx="607.1" cy="339.6" r="4.2"/>
<circle cx="603.6" cy="339.6" r="4.2"/>
<circle cx="603.6" cy="339.6" r="4.2"/>
<circle cx="571.1" cy="339.6" r="4.2"/>
<circle cx="659.4" cy="339.8" r="4.2"/>
<circle cx="653.5" cy="339.8" r="4.2"/>
<circle cx="647.6" cy="339.8" r="4.2"/>
<circle cx="616" cy="339.8" r="4.2"/>
<circle cx="616" cy="339.8" r="4.2"/>
<circle cx="601.8" cy="339.8" r="4.2"/>
<circle cx="604.2" cy="339.8" r="4.2"/>
<circle cx="606" cy="339.8" r="4.2"/>
<circle cx="608.3" cy="339.8" r="4.2"/>
<circle cx="607.7" cy="339.9" r="4.2"/>
<circle cx="594.1" cy="339.9" r="4.2"/>
<circle cx="594.1" cy="339.9" r="4.2"/>
<circle cx="564.6" cy="339.9" r="4.2"/>
<circle cx="565.8" cy="339.7" r="4.2"/>
<circle cx="565.8" cy="339.7" r="4.2"/>
<circle cx="551.6" cy="339.7" r="4.2"/>
<circle cx="551.6" cy="339.7" r="4.2"/>
<circle cx="609.5" cy="339.4" r="4.2"/>
<circle cx="591.2" cy="339" r="4.2"/>
<circle cx="591.2" cy="339" r="4.2"/>
<circle cx="591.2" cy="339" r="4.2"/>
<circle cx="591.2" cy="339" r="4.2"/>
<circle cx="572.3" cy="338.5" r="4.2"/>
<circle cx="572.3" cy="338.5" r="4.2"/>
<circle cx="646.7" cy="337" r="4.2"/>
<circle cx="553.4" cy="321.9" r="4.2"/>
<circle cx="625.4" cy="312.2" r="4.2"/>
<circle cx="625.4" cy="312.2" r="4.2"/>
<circle cx="607.7" cy="310.6" r="4.2"/>
<circle cx="603.6" cy="310.6" r="4.2"/>
<circle cx="603.6" cy="313.3" r="4.2"/>
<circle cx="594.7" cy="313.3" r="4.2"/>
<circle cx="607.1" cy="315.8" r="4.2"/>
<circle cx="601.8" cy="315.8" r="4.2"/>
<circle cx="597.1" cy="315.8" r="4.2"/>
<circle cx="592.4" cy="315.8" r="4.2"/>
<circle cx="617.2" cy="320.6" r="4.2"/>
<circle cx="618.9" cy="320.6" r="4.2"/>
<circle cx="620.7" cy="320.6" r="4.2"/>
<circle cx="597.7" cy="320.6" r="4.2"/>
<circle cx="599.5" cy="320.6" r="4.2"/>
<circle cx="600.6" cy="320.6" r="4.2"/>
<circle cx="601.8" cy="320.6" r="4.2"/>
<circle cx="603.6" cy="320.6" r="4.2"/>
<circle cx="604.8" cy="320.6" r="4.2"/>
<circle cx="606" cy="320.6" r="4.2"/>
<circle cx="607.7" cy="320.6" r="4.2"/>
<circle cx="591.8" cy="320.6" r="4.2"/>
<circle cx="604.8" cy="322.7" r="4.2"/>
<circle cx="600.6" cy="322.7" r="4.2"/>
<circle cx="598.9" cy="324.8" r="4.2"/>
<circle cx="600.6" cy="324.8" r="4.2"/>
<circle cx="601.8" cy="324.8" r="4.2"/>
<circle cx="603.6" cy="324.8" r="4.2"/>
<circle cx="605.4" cy="324.8" r="4.2"/>
<circle cx="586.5" cy="324.8" r="4.2"/>
<circle cx="588.8" cy="324.8" r="4.2"/>
<circle cx="590.6" cy="324.8" r="4.2"/>
<circle cx="584.7" cy="328.5" r="4.2"/>
<circle cx="586.5" cy="328.5" r="4.2"/>
<circle cx="588.8" cy="328.5" r="4.2"/>
<circle cx="590.6" cy="328.5" r="4.2"/>
<circle cx="592.4" cy="328.5" r="4.2"/>
<circle cx="593.6" cy="328.5" r="4.2"/>
<circle cx="595.3" cy="328.5" r="4.2"/>
<circle cx="597.1" cy="328.5" r="4.2"/>
<circle cx="599.5" cy="328.5" r="4.2"/>
<circle cx="595.3" cy="331.7" r="4.2"/>
<circle cx="597.1" cy="331.7" r="4.2"/>
<circle cx="599.5" cy="331.7" r="4.2"/>
<circle cx="590" cy="331.7" r="4.2"/>
<circle cx="586.5" cy="331.7" r="4.2"/>
<circle cx="618.4" cy="333.1" r="4.2"/>
<circle cx="620.1" cy="333.1" r="4.2"/>
<circle cx="621.9" cy="333.1" r="4.2"/>
<circle cx="604.8" cy="333.1" r="4.2"/>
<circle cx="606.5" cy="333.1" r="4.2"/>
<circle cx="608.3" cy="333.1" r="4.2"/>
<circle cx="609.5" cy="333.1" r="4.2"/>
<circle cx="611.3" cy="333.1" r="4.2"/>
<circle cx="613" cy="333.1" r="4.2"/>
<circle cx="581.2" cy="333.1" r="4.2"/>
<circle cx="582.3" cy="333.1" r="4.2"/>
<circle cx="583.5" cy="333.1" r="4.2"/>
<circle cx="584.7" cy="333.1" r="4.2"/>
<circle cx="586.5" cy="333.1" r="4.2"/>
<circle cx="587.7" cy="333.1" r="4.2"/>
<circle cx="588.8" cy="333.1" r="4.2"/>
<circle cx="590" cy="333.1" r="4.2"/>
<circle cx="591.2" cy="333.1" r="4.2"/>
<circle cx="592.4" cy="333.1" r="4.2"/>
<circle cx="592.4" cy="334.3" r="4.2"/>
<circle cx="588.2" cy="334.3" r="4.2"/>
<circle cx="620.1" cy="335.5" r="4.2"/>
<circle cx="621.9" cy="335.5" r="4.2"/>
<circle cx="584.1" cy="336.5" r="4.2"/>
<circle cx="585.3" cy="336.5" r="4.2"/>
<circle cx="586.5" cy="336.5" r="4.2"/>
<circle cx="587.7" cy="336.5" r="4.2"/>
<circle cx="588.8" cy="336.5" r="4.2"/>
<circle cx="590" cy="336.5" r="4.2"/>
<circle cx="591.2" cy="336.5" r="4.2"/>
<circle cx="591.8" cy="336.5" r="4.2"/>
<circle cx="593" cy="336.5" r="4.2"/>
<circle cx="594.1" cy="336.5" r="4.2"/>
<circle cx="595.3" cy="336.5" r="4.2"/>
<circle cx="596.5" cy="336.5" r="4.2"/>
<circle cx="597.7" cy="336.5" r="4.2"/>
<circle cx="598.9" cy="336.5" r="4.2"/>
<circle cx="583.5" cy="337.3" r="4.2"/>
<circle cx="585.3" cy="337.3" r="4.2"/>
<circle cx="586.5" cy="337.3" r="4.2"/>
<circle cx="588.2" cy="337.3" r="4.2"/>
<circle cx="589.4" cy="337.3" r="4.2"/>
<circle cx="591.2" cy="337.3" r="4.2"/>
<circle cx="593" cy="337.3" r="4.2"/>
<circle cx="594.1" cy="337.3" r="4.2"/>
<circle cx="595.9" cy="337.3" r="4.2"/>
<circle cx="597.1" cy="337.3" r="4.2"/>
<circle cx="598.9" cy="337.3" r="4.2"/>
<circle cx="584.7" cy="338.7" r="4.2"/>
<circle cx="587.1" cy="338.7" r="4.2"/>
<circle cx="589.4" cy="338.7" r="4.2"/>
<circle cx="591.8" cy="338.7" r="4.2"/>
<circle cx="594.1" cy="338.7" r="4.2"/>
<circle cx="584.7" cy="339.2" r="4.2"/>
<circle cx="586.5" cy="339.2" r="4.2"/>
<circle cx="588.2" cy="339.2" r="4.2"/>
<circle cx="589.4" cy="339.2" r="4.2"/>
<circle cx="591.2" cy="339.2" r="4.2"/>
<circle cx="593" cy="339.2" r="4.2"/>
<circle cx="594.7" cy="339.2" r="4.2"/>
</g>
<path d="M536.6 412.8L874.9 18.9" stroke="#333" stroke-width="1.9" stroke-dasharray="4.5 6.06" fill="none"/>
<g stroke="#4d4d4d" stroke-width="1.7" stroke-linejoin="round" fill="none">
<rect x="536.6" y="18.9" width="338.2" height="393.9"/>
<path d="M566.4 18.9v-10.7 M566.4 412.8v10.7"/>
<path d="M536.6 377.9h-10.7 M874.9 377.9h10.7"/>
<path d="M625.4 18.9v-10.7 M625.4 412.8v10.7"/>
<path d="M536.6 309.2h-10.7 M874.9 309.2h10.7"/>
<path d="M684.5 18.9v-10.7 M684.5 412.8v10.7"/>
<path d="M536.6 240.5h-10.7 M874.9 240.5h10.7"/>
<path d="M743.5 18.9v-10.7 M743.5 412.8v10.7"/>
<path d="M536.6 171.8h-10.7 M874.9 171.8h10.7"/>
<path d="M802.6 18.9v-10.7 M802.6 412.8v10.7"/>
<path d="M536.6 103.1h-10.7 M874.9 103.1h10.7"/>
<path d="M861.6 18.9v-10.7 M861.6 412.8v10.7"/>
<path d="M536.6 34.4h-10.7 M874.9 34.4h10.7"/>
</g>
<text transform="translate(565.7 445.5) scale(1.04 1)" text-anchor="middle">20</text>
<text transform="translate(519 385.1) scale(1.04 1)" text-anchor="end">20</text>
<text transform="translate(624.7 445.5) scale(1.04 1)" text-anchor="middle">30</text>
<text transform="translate(519 316.4) scale(1.04 1)" text-anchor="end">30</text>
<text transform="translate(683.8 445.5) scale(1.04 1)" text-anchor="middle">40</text>
<text transform="translate(519 247.7) scale(1.04 1)" text-anchor="end">40</text>
<text transform="translate(742.8 445.5) scale(1.04 1)" text-anchor="middle">50</text>
<text transform="translate(519 179) scale(1.04 1)" text-anchor="end">50</text>
<text transform="translate(801.9 445.5) scale(1.04 1)" text-anchor="middle">60</text>
<text transform="translate(519 110.3) scale(1.04 1)" text-anchor="end">60</text>
<text transform="translate(860.9 445.5) scale(1.04 1)" text-anchor="middle">70</text>
<text transform="translate(519 41.6) scale(1.04 1)" text-anchor="end">70</text>
<text transform="translate(704.7 477.5) scale(1.04 1)" text-anchor="middle">Observed</text>
<text transform="translate(478.4 215.9) rotate(-90) scale(1.04 1)" text-anchor="middle">Predicted</text>
</g>
</svg></body></html>
